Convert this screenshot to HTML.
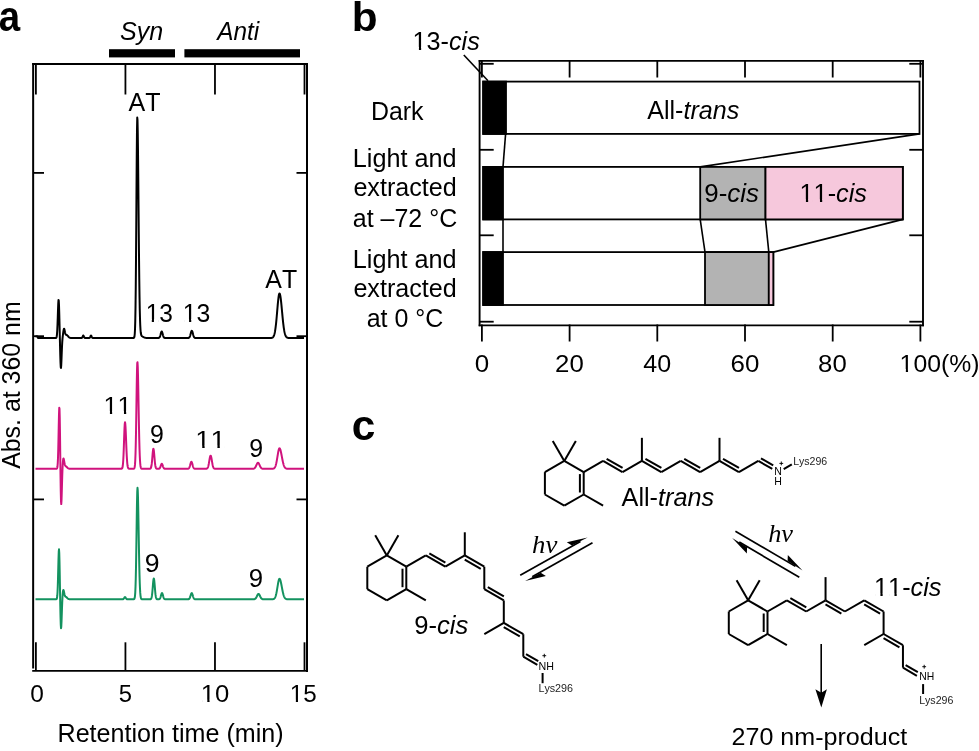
<!DOCTYPE html><html><head><meta charset="utf-8"><style>html,body{margin:0;padding:0;background:#fff;}svg{display:block;will-change:transform;}</style></head><body>
<svg width="979" height="751" viewBox="0 0 979 751">
<rect width="979" height="751" fill="#fff"/>
<text x="-1.13" y="30.50" textLength="21.38" lengthAdjust="spacingAndGlyphs" style="font-family:&quot;Liberation Sans&quot;,sans-serif;font-weight:bold;font-size:42px;font-kerning:none;" fill="#000" >a</text>
<text x="120.09" y="39.50" textLength="43.25" lengthAdjust="spacingAndGlyphs" style="font-family:&quot;Liberation Sans&quot;,sans-serif;font-style:italic;font-size:26.0px;font-kerning:none;" fill="#000" >Syn</text>
<text x="217.30" y="39.50" textLength="41.95" lengthAdjust="spacingAndGlyphs" style="font-family:&quot;Liberation Sans&quot;,sans-serif;font-style:italic;font-size:26.0px;font-kerning:none;" fill="#000" >Anti</text>
<rect x="109.00" y="49.20" width="66.00" height="8.20" fill="#000" stroke="none" stroke-width="0"/>
<rect x="184.40" y="49.20" width="115.60" height="8.20" fill="#000" stroke="none" stroke-width="0"/>
<line x1="33.15" y1="63.10" x2="33.15" y2="668.50" stroke="#000" stroke-width="2" stroke-linecap="butt"/>
<line x1="307.00" y1="63.10" x2="307.00" y2="671.90" stroke="#000" stroke-width="2" stroke-linecap="butt"/>
<line x1="32.20" y1="64.00" x2="307.90" y2="64.00" stroke="#000" stroke-width="1.9" stroke-linecap="butt"/>
<line x1="32.20" y1="670.90" x2="307.90" y2="670.90" stroke="#000" stroke-width="1.9" stroke-linecap="butt"/>
<line x1="35.90" y1="64.00" x2="35.90" y2="94.50" stroke="#000" stroke-width="1.8" stroke-linecap="butt"/>
<line x1="35.90" y1="642.30" x2="35.90" y2="671.00" stroke="#000" stroke-width="1.8" stroke-linecap="butt"/>
<line x1="125.43" y1="64.00" x2="125.43" y2="94.50" stroke="#000" stroke-width="1.8" stroke-linecap="butt"/>
<line x1="125.43" y1="642.30" x2="125.43" y2="671.00" stroke="#000" stroke-width="1.8" stroke-linecap="butt"/>
<line x1="214.97" y1="64.00" x2="214.97" y2="94.50" stroke="#000" stroke-width="1.8" stroke-linecap="butt"/>
<line x1="214.97" y1="642.30" x2="214.97" y2="671.00" stroke="#000" stroke-width="1.8" stroke-linecap="butt"/>
<line x1="304.50" y1="64.00" x2="304.50" y2="94.50" stroke="#000" stroke-width="1.8" stroke-linecap="butt"/>
<line x1="304.50" y1="642.30" x2="304.50" y2="671.00" stroke="#000" stroke-width="1.8" stroke-linecap="butt"/>
<line x1="33.00" y1="172.90" x2="44.00" y2="172.90" stroke="#000" stroke-width="1.8" stroke-linecap="butt"/>
<line x1="296.50" y1="172.90" x2="307.00" y2="172.90" stroke="#000" stroke-width="1.8" stroke-linecap="butt"/>
<line x1="33.00" y1="336.20" x2="44.00" y2="336.20" stroke="#000" stroke-width="1.8" stroke-linecap="butt"/>
<line x1="296.50" y1="336.20" x2="307.00" y2="336.20" stroke="#000" stroke-width="1.8" stroke-linecap="butt"/>
<line x1="33.00" y1="499.40" x2="44.00" y2="499.40" stroke="#000" stroke-width="1.8" stroke-linecap="butt"/>
<line x1="296.50" y1="499.40" x2="307.00" y2="499.40" stroke="#000" stroke-width="1.8" stroke-linecap="butt"/>
<text x="30.34" y="702.40" textLength="13.61" lengthAdjust="spacingAndGlyphs" style="font-family:&quot;Liberation Sans&quot;,sans-serif;font-size:24.8px;font-kerning:none;" fill="#000" >0</text>
<text x="118.65" y="702.40" textLength="13.26" lengthAdjust="spacingAndGlyphs" style="font-family:&quot;Liberation Sans&quot;,sans-serif;font-size:24.8px;font-kerning:none;" fill="#000" >5</text>
<text x="200.83" y="702.40" textLength="28.57" lengthAdjust="spacingAndGlyphs" style="font-family:&quot;Liberation Sans&quot;,sans-serif;font-size:24.8px;font-kerning:none;" fill="#000" >10</text>
<rect x="202.19" y="699.75" width="5.10" height="3.45" fill="#fff"/>
<rect x="209.56" y="699.75" width="4.90" height="3.45" fill="#fff"/>
<text x="289.77" y="702.40" textLength="26.95" lengthAdjust="spacingAndGlyphs" style="font-family:&quot;Liberation Sans&quot;,sans-serif;font-size:24.8px;font-kerning:none;" fill="#000" >15</text>
<rect x="291.01" y="699.75" width="4.85" height="3.45" fill="#fff"/>
<rect x="298.00" y="699.75" width="4.66" height="3.45" fill="#fff"/>
<text x="57.54" y="742.00" textLength="226.02" lengthAdjust="spacingAndGlyphs" style="font-family:&quot;Liberation Sans&quot;,sans-serif;font-size:25.6px;font-kerning:none;" fill="#000" >Retention time (min)</text>
<g transform="translate(20.4,468.8) rotate(-90)">
<text x="-0.05" y="0.00" textLength="167.49" lengthAdjust="spacingAndGlyphs" style="font-family:&quot;Liberation Sans&quot;,sans-serif;font-size:25.6px;font-kerning:none;" fill="#000" >Abs. at 360 nm</text>
</g>
<text x="128.55" y="110.60" textLength="32.02" lengthAdjust="spacingAndGlyphs" style="font-family:&quot;Liberation Sans&quot;,sans-serif;font-size:26.0px;font-kerning:none;" fill="#000" >AT</text>
<text x="145.65" y="321.70" textLength="27.23" lengthAdjust="spacingAndGlyphs" style="font-family:&quot;Liberation Sans&quot;,sans-serif;font-size:25.0px;font-kerning:none;" fill="#000" >13</text>
<rect x="146.91" y="319.03" width="4.89" height="3.47" fill="#fff"/>
<rect x="153.96" y="319.03" width="4.70" height="3.47" fill="#fff"/>
<text x="182.82" y="321.70" textLength="27.57" lengthAdjust="spacingAndGlyphs" style="font-family:&quot;Liberation Sans&quot;,sans-serif;font-size:25.0px;font-kerning:none;" fill="#000" >13</text>
<rect x="184.10" y="319.03" width="4.95" height="3.47" fill="#fff"/>
<rect x="191.24" y="319.03" width="4.75" height="3.47" fill="#fff"/>
<text x="265.35" y="287.60" textLength="31.82" lengthAdjust="spacingAndGlyphs" style="font-family:&quot;Liberation Sans&quot;,sans-serif;font-size:25.8px;font-kerning:none;" fill="#000" >AT</text>
<text x="103.57" y="413.80" textLength="28.09" lengthAdjust="spacingAndGlyphs" style="font-family:&quot;Liberation Sans&quot;,sans-serif;font-size:24.8px;font-kerning:none;" fill="#000" >11</text>
<rect x="104.89" y="411.15" width="5.03" height="3.45" fill="#fff"/>
<rect x="112.15" y="411.15" width="4.83" height="3.45" fill="#fff"/>
<rect x="118.94" y="411.15" width="5.03" height="3.45" fill="#fff"/>
<rect x="126.20" y="411.15" width="4.83" height="3.45" fill="#fff"/>
<text x="150.03" y="442.90" textLength="13.85" lengthAdjust="spacingAndGlyphs" style="font-family:&quot;Liberation Sans&quot;,sans-serif;font-size:25.0px;font-kerning:none;" fill="#000" >9</text>
<text x="195.38" y="448.30" textLength="30.32" lengthAdjust="spacingAndGlyphs" style="font-family:&quot;Liberation Sans&quot;,sans-serif;font-size:24.8px;font-kerning:none;" fill="#000" >11</text>
<rect x="196.85" y="445.65" width="5.38" height="3.45" fill="#fff"/>
<rect x="204.64" y="445.65" width="5.16" height="3.45" fill="#fff"/>
<rect x="212.01" y="445.65" width="5.38" height="3.45" fill="#fff"/>
<rect x="219.80" y="445.65" width="5.16" height="3.45" fill="#fff"/>
<text x="249.23" y="457.30" textLength="13.85" lengthAdjust="spacingAndGlyphs" style="font-family:&quot;Liberation Sans&quot;,sans-serif;font-size:25.0px;font-kerning:none;" fill="#000" >9</text>
<text x="144.85" y="571.70" textLength="14.81" lengthAdjust="spacingAndGlyphs" style="font-family:&quot;Liberation Sans&quot;,sans-serif;font-size:25.0px;font-kerning:none;" fill="#000" >9</text>
<text x="248.79" y="586.50" textLength="14.33" lengthAdjust="spacingAndGlyphs" style="font-family:&quot;Liberation Sans&quot;,sans-serif;font-size:25.0px;font-kerning:none;" fill="#000" >9</text>
<polyline points="35.50,336.20 37.50,336.40 38.00,338.00 38.00,338.00 38.25,338.00 38.50,338.00 38.75,338.00 39.00,338.00 39.25,338.00 39.50,338.00 39.75,338.00 40.00,338.00 40.25,338.00 40.50,338.00 40.75,338.00 41.00,338.00 41.25,338.00 41.50,338.00 41.75,338.00 42.00,338.00 42.25,338.00 42.50,338.00 42.75,338.00 43.00,338.00 43.25,338.00 43.50,338.00 43.75,338.00 44.00,338.00 44.25,338.00 44.50,338.00 44.75,338.00 45.00,338.00 45.25,338.00 45.50,338.00 45.75,338.00 46.00,338.00 46.25,338.00 46.50,338.00 46.75,338.00 47.00,338.00 47.25,338.00 47.50,338.00 47.75,338.00 48.00,338.00 48.25,338.00 48.50,338.00 48.75,338.00 49.00,338.00 49.25,338.00 49.50,338.00 49.75,338.00 50.00,338.00 50.25,338.00 50.50,338.00 50.75,338.00 51.00,338.00 51.25,338.00 51.50,338.00 51.75,338.00 52.00,338.00 52.25,338.00 52.50,338.00 52.75,338.00 53.00,338.00 53.25,338.00 53.50,338.00 53.75,338.00 54.00,338.00 54.25,338.00 54.50,338.00 54.75,338.00 55.00,338.00 55.25,338.00 55.50,337.99 55.75,337.97 56.00,337.91 56.25,337.72 56.50,337.24 56.75,336.16 57.00,334.04 57.25,330.38 57.50,324.87 57.75,317.75 58.00,310.05 58.25,303.50 58.50,299.93 58.75,300.54 59.00,305.37 59.25,313.45 59.50,323.39 59.75,334.03 60.00,344.60 60.25,354.39 60.50,362.35 60.75,367.17 61.00,367.95 61.25,364.81 61.50,359.03 61.75,352.40 62.00,346.47 62.25,341.92 62.50,338.69 62.75,336.29 63.00,334.25 63.25,332.34 63.50,330.63 63.75,329.35 64.00,328.75 64.25,328.93 64.50,329.77 64.75,331.00 65.00,332.29 65.25,333.37 65.50,334.13 65.75,334.58 66.00,334.79 66.25,334.88 66.50,334.94 66.75,335.02 67.00,335.15 67.25,335.35 67.50,335.60 67.75,335.88 68.00,336.18 68.25,336.48 68.50,336.77 68.75,337.03 69.00,337.25 69.25,337.44 69.50,337.59 69.75,337.71 70.00,337.80 70.25,337.87 70.50,337.91 70.75,337.95 71.00,337.97 71.25,337.98 71.50,337.99 71.75,337.99 72.00,338.00 72.25,338.00 72.50,338.00 72.75,338.00 73.00,338.00 73.25,338.00 73.50,338.00 73.75,338.00 74.00,338.00 74.25,338.00 74.50,338.00 74.75,338.00 75.00,338.00 75.25,338.00 75.50,338.00 75.75,338.00 76.00,338.00 76.25,338.00 76.50,338.00 76.75,338.00 77.00,338.00 77.25,338.00 77.50,338.00 77.75,338.00 78.00,338.00 78.25,338.00 78.50,338.00 78.75,338.00 79.00,338.00 79.25,338.00 79.50,338.00 79.75,338.00 80.00,338.00 80.25,338.00 80.50,338.00 80.75,338.00 81.00,338.00 81.25,337.99 81.50,337.97 81.75,337.91 82.00,337.76 82.25,337.46 82.50,336.97 82.75,336.36 83.00,335.79 83.25,335.51 83.50,335.64 83.75,336.11 84.00,336.73 84.25,337.29 84.50,337.66 84.75,337.87 85.00,337.95 85.25,337.99 85.50,338.00 85.75,338.00 86.00,338.00 86.25,338.00 86.50,338.00 86.75,338.00 87.00,338.00 87.25,338.00 87.50,338.00 87.75,338.00 88.00,338.00 88.25,338.00 88.50,338.00 88.75,338.00 89.00,337.99 89.25,337.96 89.50,337.89 89.75,337.71 90.00,337.38 90.25,336.86 90.50,336.23 90.75,335.71 91.00,335.50 91.25,335.71 91.50,336.23 91.75,336.86 92.00,337.38 92.25,337.71 92.50,337.89 92.75,337.96 93.00,337.99 93.25,338.00 93.50,338.00 93.75,338.00 94.00,338.00 94.25,338.00 94.50,338.00 94.75,338.00 95.00,338.00 95.25,338.00 95.50,338.00 95.75,338.00 96.00,338.00 96.25,338.00 96.50,338.00 96.75,338.00 97.00,338.00 97.25,338.00 97.50,338.00 97.75,338.00 98.00,338.00 98.25,338.00 98.50,338.00 98.75,338.00 99.00,338.00 99.25,338.00 99.50,338.00 99.75,338.00 100.00,338.00 100.25,338.00 100.50,338.00 100.75,338.00 101.00,338.00 101.25,338.00 101.50,338.00 101.75,338.00 102.00,338.00 102.25,338.00 102.50,338.00 102.75,338.00 103.00,338.00 103.25,338.00 103.50,338.00 103.75,338.00 104.00,338.00 104.25,338.00 104.50,338.00 104.75,338.00 105.00,338.00 105.25,338.00 105.50,338.00 105.75,338.00 106.00,338.00 106.25,338.00 106.50,338.00 106.75,338.00 107.00,338.00 107.25,338.00 107.50,338.00 107.75,338.00 108.00,338.00 108.25,338.00 108.50,338.00 108.75,338.00 109.00,338.00 109.25,338.00 109.50,338.00 109.75,338.00 110.00,338.00 110.25,338.00 110.50,338.00 110.75,338.00 111.00,338.00 111.25,338.00 111.50,338.00 111.75,338.00 112.00,338.00 112.25,338.00 112.50,338.00 112.75,338.00 113.00,338.00 113.25,338.00 113.50,338.00 113.75,338.00 114.00,338.00 114.25,338.00 114.50,338.00 114.75,338.00 115.00,338.00 115.25,338.00 115.50,338.00 115.75,338.00 116.00,338.00 116.25,338.00 116.50,338.00 116.75,338.00 117.00,338.00 117.25,338.00 117.50,338.00 117.75,338.00 118.00,338.00 118.25,338.00 118.50,338.00 118.75,338.00 119.00,338.00 119.25,338.00 119.50,338.00 119.75,338.00 120.00,338.00 120.25,338.00 120.50,338.00 120.75,338.00 121.00,338.00 121.25,338.00 121.50,338.00 121.75,338.00 122.00,338.00 122.25,338.00 122.50,338.00 122.75,338.00 123.00,338.00 123.25,338.00 123.50,338.00 123.75,338.00 124.00,338.00 124.25,338.00 124.50,338.00 124.75,338.00 125.00,338.00 125.25,338.00 125.50,338.00 125.75,338.00 126.00,338.00 126.25,338.00 126.50,338.00 126.75,338.00 127.00,338.00 127.25,338.00 127.50,338.00 127.75,338.00 128.00,338.00 128.25,338.00 128.50,338.00 128.75,338.00 129.00,338.00 129.25,338.00 129.50,338.00 129.75,338.00 130.00,338.00 130.25,338.00 130.50,338.00 130.75,338.00 131.00,338.00 131.25,338.00 131.50,338.00 131.75,338.00 132.00,338.00 132.25,338.00 132.50,338.00 132.75,338.00 133.00,338.00 133.25,337.99 133.50,337.97 133.75,337.90 134.00,337.73 134.25,337.29 134.50,336.25 134.75,334.00 135.00,329.56 135.25,321.49 135.50,308.11 135.75,287.89 136.00,260.23 136.25,226.23 136.50,189.30 136.75,154.85 137.00,129.15 137.25,117.50 137.50,120.11 137.75,131.94 138.00,151.35 138.25,176.04 138.50,203.34 138.75,230.68 139.00,255.95 139.25,277.75 139.50,295.42 139.75,308.92 140.00,318.69 140.25,325.39 140.50,329.76 140.75,332.48 141.00,334.10 141.25,335.04 141.50,335.58 141.75,335.91 142.00,336.13 142.25,336.31 142.50,336.47 142.75,336.63 143.00,336.78 143.25,336.94 143.50,337.08 143.75,337.22 144.00,337.35 144.25,337.47 144.50,337.57 144.75,337.66 145.00,337.73 145.25,337.79 145.50,337.84 145.75,337.88 146.00,337.91 146.25,337.94 146.50,337.95 146.75,337.97 147.00,337.98 147.25,337.98 147.50,337.99 147.75,337.99 148.00,338.00 148.25,338.00 148.50,338.00 148.75,338.00 149.00,338.00 149.25,338.00 149.50,338.00 149.75,338.00 150.00,338.00 150.25,338.00 150.50,338.00 150.75,338.00 151.00,338.00 151.25,338.00 151.50,338.00 151.75,338.00 152.00,338.00 152.25,338.00 152.50,338.00 152.75,338.00 153.00,338.00 153.25,338.00 153.50,338.00 153.75,338.00 154.00,338.00 154.25,338.00 154.50,338.00 154.75,338.00 155.00,338.00 155.25,338.00 155.50,338.00 155.75,338.00 156.00,338.00 156.25,338.00 156.50,338.00 156.75,338.00 157.00,338.00 157.25,338.00 157.50,338.00 157.75,338.00 158.00,337.99 158.25,337.98 158.50,337.96 158.75,337.92 159.00,337.83 159.25,337.68 159.50,337.42 159.75,337.03 160.00,336.47 160.25,335.73 160.50,334.84 160.75,333.86 161.00,332.91 161.25,332.13 161.50,331.63 161.75,331.51 162.00,331.79 162.25,332.41 162.50,333.28 162.75,334.25 163.00,335.21 163.25,336.04 163.50,336.71 163.75,337.21 164.00,337.54 164.25,337.75 164.50,337.87 164.75,337.94 165.00,337.97 165.25,337.99 165.50,338.00 165.75,338.00 166.00,338.00 166.25,338.00 166.50,338.00 166.75,338.00 167.00,338.00 167.25,338.00 167.50,338.00 167.75,338.00 168.00,338.00 168.25,338.00 168.50,338.00 168.75,338.00 169.00,338.00 169.25,338.00 169.50,338.00 169.75,338.00 170.00,338.00 170.25,338.00 170.50,338.00 170.75,338.00 171.00,338.00 171.25,338.00 171.50,338.00 171.75,338.00 172.00,338.00 172.25,338.00 172.50,338.00 172.75,338.00 173.00,338.00 173.25,338.00 173.50,338.00 173.75,338.00 174.00,338.00 174.25,338.00 174.50,338.00 174.75,338.00 175.00,338.00 175.25,338.00 175.50,338.00 175.75,338.00 176.00,338.00 176.25,338.00 176.50,338.00 176.75,338.00 177.00,338.00 177.25,338.00 177.50,338.00 177.75,338.00 178.00,338.00 178.25,338.00 178.50,338.00 178.75,338.00 179.00,338.00 179.25,338.00 179.50,338.00 179.75,338.00 180.00,338.00 180.25,338.00 180.50,338.00 180.75,338.00 181.00,338.00 181.25,338.00 181.50,338.00 181.75,338.00 182.00,338.00 182.25,338.00 182.50,338.00 182.75,338.00 183.00,338.00 183.25,338.00 183.50,338.00 183.75,338.00 184.00,338.00 184.25,338.00 184.50,338.00 184.75,338.00 185.00,338.00 185.25,338.00 185.50,338.00 185.75,338.00 186.00,338.00 186.25,338.00 186.50,338.00 186.75,338.00 187.00,338.00 187.25,338.00 187.50,338.00 187.75,337.99 188.00,337.98 188.25,337.96 188.50,337.92 188.75,337.85 189.00,337.72 189.25,337.51 189.50,337.19 189.75,336.73 190.00,336.11 190.25,335.33 190.50,334.42 190.75,333.43 191.00,332.47 191.25,331.65 191.50,331.06 191.75,330.81 192.00,330.92 192.25,331.38 192.50,332.12 192.75,333.04 193.00,334.03 193.25,334.98 193.50,335.82 193.75,336.50 194.00,337.03 194.25,337.40 194.50,337.65 194.75,337.80 195.00,337.90 195.25,337.95 195.50,337.97 195.75,337.99 196.00,338.00 196.25,338.00 196.50,338.00 196.75,338.00 197.00,338.00 197.25,338.00 197.50,338.00 197.75,338.00 198.00,338.00 198.25,338.00 198.50,338.00 198.75,338.00 199.00,338.00 199.25,338.00 199.50,338.00 199.75,338.00 200.00,338.00 200.25,338.00 200.50,338.00 200.75,338.00 201.00,338.00 201.25,338.00 201.50,338.00 201.75,338.00 202.00,338.00 202.25,338.00 202.50,338.00 202.75,338.00 203.00,338.00 203.25,338.00 203.50,338.00 203.75,338.00 204.00,338.00 204.25,338.00 204.50,338.00 204.75,338.00 205.00,338.00 205.25,338.00 205.50,338.00 205.75,338.00 206.00,338.00 206.25,338.00 206.50,338.00 206.75,338.00 207.00,338.00 207.25,338.00 207.50,338.00 207.75,338.00 208.00,338.00 208.25,338.00 208.50,338.00 208.75,338.00 209.00,338.00 209.25,338.00 209.50,338.00 209.75,338.00 210.00,338.00 210.25,338.00 210.50,338.00 210.75,338.00 211.00,338.00 211.25,338.00 211.50,338.00 211.75,338.00 212.00,338.00 212.25,338.00 212.50,338.00 212.75,338.00 213.00,338.00 213.25,338.00 213.50,338.00 213.75,338.00 214.00,338.00 214.25,338.00 214.50,338.00 214.75,338.00 215.00,338.00 215.25,338.00 215.50,338.00 215.75,338.00 216.00,338.00 216.25,338.00 216.50,338.00 216.75,338.00 217.00,338.00 217.25,338.00 217.50,338.00 217.75,338.00 218.00,338.00 218.25,338.00 218.50,338.00 218.75,338.00 219.00,338.00 219.25,338.00 219.50,338.00 219.75,338.00 220.00,338.00 220.25,338.00 220.50,338.00 220.75,338.00 221.00,338.00 221.25,338.00 221.50,338.00 221.75,338.00 222.00,338.00 222.25,338.00 222.50,338.00 222.75,338.00 223.00,338.00 223.25,338.00 223.50,338.00 223.75,338.00 224.00,338.00 224.25,338.00 224.50,338.00 224.75,338.00 225.00,338.00 225.25,338.00 225.50,338.00 225.75,338.00 226.00,338.00 226.25,338.00 226.50,338.00 226.75,338.00 227.00,338.00 227.25,338.00 227.50,338.00 227.75,338.00 228.00,338.00 228.25,338.00 228.50,338.00 228.75,338.00 229.00,338.00 229.25,338.00 229.50,338.00 229.75,338.00 230.00,338.00 230.25,338.00 230.50,338.00 230.75,338.00 231.00,338.00 231.25,338.00 231.50,338.00 231.75,338.00 232.00,338.00 232.25,338.00 232.50,338.00 232.75,338.00 233.00,338.00 233.25,338.00 233.50,338.00 233.75,338.00 234.00,338.00 234.25,338.00 234.50,338.00 234.75,338.00 235.00,338.00 235.25,338.00 235.50,338.00 235.75,338.00 236.00,338.00 236.25,338.00 236.50,338.00 236.75,338.00 237.00,338.00 237.25,338.00 237.50,338.00 237.75,338.00 238.00,338.00 238.25,338.00 238.50,338.00 238.75,338.00 239.00,338.00 239.25,338.00 239.50,338.00 239.75,338.00 240.00,338.00 240.25,338.00 240.50,338.00 240.75,338.00 241.00,338.00 241.25,338.00 241.50,338.00 241.75,338.00 242.00,338.00 242.25,338.00 242.50,338.00 242.75,338.00 243.00,338.00 243.25,338.00 243.50,338.00 243.75,338.00 244.00,338.00 244.25,338.00 244.50,338.00 244.75,338.00 245.00,338.00 245.25,338.00 245.50,338.00 245.75,338.00 246.00,338.00 246.25,338.00 246.50,338.00 246.75,338.00 247.00,338.00 247.25,338.00 247.50,338.00 247.75,338.00 248.00,338.00 248.25,338.00 248.50,338.00 248.75,338.00 249.00,338.00 249.25,338.00 249.50,338.00 249.75,338.00 250.00,338.00 250.25,338.00 250.50,338.00 250.75,338.00 251.00,338.00 251.25,338.00 251.50,338.00 251.75,338.00 252.00,338.00 252.25,338.00 252.50,338.00 252.75,338.00 253.00,338.00 253.25,338.00 253.50,338.00 253.75,338.00 254.00,338.00 254.25,338.00 254.50,338.00 254.75,338.00 255.00,338.00 255.25,338.00 255.50,338.00 255.75,338.00 256.00,338.00 256.25,338.00 256.50,338.00 256.75,338.00 257.00,338.00 257.25,338.00 257.50,338.00 257.75,338.00 258.00,338.00 258.25,338.00 258.50,338.00 258.75,338.00 259.00,338.00 259.25,338.00 259.50,338.00 259.75,338.00 260.00,338.00 260.25,338.00 260.50,338.00 260.75,338.00 261.00,338.00 261.25,338.00 261.50,338.00 261.75,338.00 262.00,338.00 262.25,338.00 262.50,338.00 262.75,338.00 263.00,338.00 263.25,338.00 263.50,338.00 263.75,338.00 264.00,338.00 264.25,338.00 264.50,338.00 264.75,338.00 265.00,338.00 265.25,338.00 265.50,338.00 265.75,338.00 266.00,338.00 266.25,338.00 266.50,338.00 266.75,338.00 267.00,338.00 267.25,338.00 267.50,338.00 267.75,338.00 268.00,338.00 268.25,338.00 268.50,338.00 268.75,338.00 269.00,338.00 269.25,338.00 269.50,338.00 269.75,337.99 270.00,337.99 270.25,337.99 270.50,337.98 270.75,337.97 271.00,337.95 271.25,337.93 271.50,337.89 271.75,337.85 272.00,337.78 272.25,337.69 272.50,337.57 272.75,337.40 273.00,337.18 273.25,336.89 273.50,336.52 273.75,336.04 274.00,335.45 274.25,334.71 274.50,333.81 274.75,332.73 275.00,331.44 275.25,329.93 275.50,328.19 275.75,326.22 276.00,324.02 276.25,321.60 276.50,318.99 276.75,316.23 277.00,313.35 277.25,310.42 277.50,307.51 277.75,304.68 278.00,302.03 278.25,299.61 278.50,297.51 278.75,295.80 279.00,294.54 279.25,293.76 279.50,293.50 279.75,293.72 280.00,294.38 280.25,295.46 280.50,296.92 280.75,298.73 281.00,300.83 281.25,303.17 281.50,305.69 281.75,308.32 282.00,311.01 282.25,313.70 282.50,316.34 282.75,318.88 283.00,321.30 283.25,323.55 283.50,325.63 283.75,327.51 284.00,329.19 284.25,330.68 284.50,331.98 284.75,333.09 285.00,334.04 285.25,334.84 285.50,335.50 285.75,336.04 286.00,336.48 286.25,336.84 286.50,337.12 286.75,337.34 287.00,337.51 287.25,337.64 287.50,337.73 287.75,337.81 288.00,337.86 288.25,337.90 288.50,337.93 288.75,337.95 289.00,337.97 289.25,337.98 289.50,337.99 289.75,337.99 290.00,337.99 290.25,338.00 290.50,338.00 290.75,338.00 291.00,338.00 291.25,338.00 291.50,338.00 291.75,338.00 292.00,338.00 292.25,338.00 292.50,338.00 292.75,338.00 293.00,338.00 293.25,338.00 293.50,338.00 293.75,338.00 294.00,338.00 294.25,338.00 294.50,338.00 294.75,338.00 295.00,338.00 295.25,338.00 295.50,338.00 295.75,338.00 296.00,338.00 296.25,338.00 296.50,338.00 296.75,338.00 297.00,338.00 297.25,338.00 297.50,338.00 297.75,338.00 298.00,338.00 298.25,338.00 298.50,338.00 298.75,338.00 299.00,338.00 299.25,338.00 299.50,338.00 299.75,338.00 300.00,338.00 300.25,338.00 300.50,338.00 300.75,338.00 301.00,338.00 301.25,338.00 301.50,338.00 301.75,338.00 302.00,338.00 302.25,338.00 302.50,338.00 302.75,338.00 303.00,338.00 303.25,338.00 303.50,338.00 303.75,338.00 304.00,338.00" fill="none" stroke="#000" stroke-width="2.0" stroke-linejoin="round" stroke-linecap="butt"/>
<polyline points="35.50,468.80 35.75,468.80 36.00,468.80 36.25,468.80 36.50,468.80 36.75,468.80 37.00,468.80 37.25,468.80 37.50,468.80 37.75,468.80 38.00,468.80 38.25,468.80 38.50,468.80 38.75,468.80 39.00,468.80 39.25,468.80 39.50,468.80 39.75,468.80 40.00,468.80 40.25,468.80 40.50,468.80 40.75,468.80 41.00,468.80 41.25,468.80 41.50,468.80 41.75,468.80 42.00,468.80 42.25,468.80 42.50,468.80 42.75,468.80 43.00,468.80 43.25,468.80 43.50,468.80 43.75,468.80 44.00,468.80 44.25,468.80 44.50,468.80 44.75,468.80 45.00,468.80 45.25,468.80 45.50,468.80 45.75,468.80 46.00,468.80 46.25,468.80 46.50,468.80 46.75,468.80 47.00,468.80 47.25,468.80 47.50,468.80 47.75,468.80 48.00,468.80 48.25,468.80 48.50,468.80 48.75,468.80 49.00,468.80 49.25,468.80 49.50,468.80 49.75,468.80 50.00,468.80 50.25,468.80 50.50,468.80 50.75,468.80 51.00,468.80 51.25,468.80 51.50,468.80 51.75,468.80 52.00,468.80 52.25,468.80 52.50,468.80 52.75,468.80 53.00,468.80 53.25,468.80 53.50,468.80 53.75,468.80 54.00,468.80 54.25,468.80 54.50,468.80 54.75,468.80 55.00,468.80 55.25,468.80 55.50,468.80 55.75,468.80 56.00,468.80 56.25,468.79 56.50,468.76 56.75,468.68 57.00,468.42 57.25,467.76 57.50,466.23 57.75,463.15 58.00,457.68 58.25,449.21 58.50,437.93 58.75,425.32 59.00,414.16 59.25,407.76 59.50,408.76 59.75,418.00 60.00,434.18 60.25,454.28 60.50,474.47 60.75,491.04 61.00,501.24 61.25,504.07 61.50,500.45 61.75,492.76 62.00,483.71 62.25,475.38 62.50,468.75 62.75,463.96 63.00,460.78 63.25,459.01 63.50,458.46 63.75,458.93 64.00,460.12 64.25,461.63 64.50,463.11 64.75,464.31 65.00,465.15 65.25,465.68 65.50,466.00 65.75,466.21 66.00,466.39 66.25,466.58 66.50,466.79 66.75,467.03 67.00,467.28 67.25,467.53 67.50,467.77 67.75,467.99 68.00,468.18 68.25,468.33 68.50,468.46 68.75,468.56 69.00,468.64 69.25,468.69 69.50,468.73 69.75,468.75 70.00,468.77 70.25,468.78 70.50,468.79 70.75,468.79 71.00,468.80 71.25,468.80 71.50,468.80 71.75,468.80 72.00,468.80 72.25,468.80 72.50,468.80 72.75,468.80 73.00,468.80 73.25,468.80 73.50,468.80 73.75,468.80 74.00,468.80 74.25,468.80 74.50,468.80 74.75,468.80 75.00,468.80 75.25,468.80 75.50,468.80 75.75,468.80 76.00,468.80 76.25,468.80 76.50,468.80 76.75,468.80 77.00,468.80 77.25,468.80 77.50,468.80 77.75,468.80 78.00,468.80 78.25,468.80 78.50,468.80 78.75,468.80 79.00,468.80 79.25,468.80 79.50,468.80 79.75,468.80 80.00,468.80 80.25,468.80 80.50,468.80 80.75,468.80 81.00,468.80 81.25,468.80 81.50,468.80 81.75,468.80 82.00,468.80 82.25,468.80 82.50,468.80 82.75,468.80 83.00,468.80 83.25,468.80 83.50,468.80 83.75,468.80 84.00,468.80 84.25,468.80 84.50,468.80 84.75,468.80 85.00,468.80 85.25,468.80 85.50,468.80 85.75,468.80 86.00,468.80 86.25,468.80 86.50,468.80 86.75,468.80 87.00,468.80 87.25,468.80 87.50,468.80 87.75,468.80 88.00,468.80 88.25,468.80 88.50,468.80 88.75,468.80 89.00,468.80 89.25,468.80 89.50,468.80 89.75,468.80 90.00,468.80 90.25,468.80 90.50,468.80 90.75,468.80 91.00,468.80 91.25,468.80 91.50,468.80 91.75,468.80 92.00,468.80 92.25,468.80 92.50,468.80 92.75,468.80 93.00,468.80 93.25,468.80 93.50,468.80 93.75,468.80 94.00,468.80 94.25,468.80 94.50,468.80 94.75,468.80 95.00,468.80 95.25,468.80 95.50,468.80 95.75,468.80 96.00,468.80 96.25,468.80 96.50,468.80 96.75,468.80 97.00,468.80 97.25,468.80 97.50,468.80 97.75,468.80 98.00,468.80 98.25,468.80 98.50,468.80 98.75,468.80 99.00,468.80 99.25,468.80 99.50,468.80 99.75,468.80 100.00,468.80 100.25,468.80 100.50,468.80 100.75,468.80 101.00,468.80 101.25,468.80 101.50,468.80 101.75,468.80 102.00,468.80 102.25,468.80 102.50,468.80 102.75,468.80 103.00,468.80 103.25,468.80 103.50,468.80 103.75,468.80 104.00,468.80 104.25,468.80 104.50,468.80 104.75,468.80 105.00,468.80 105.25,468.80 105.50,468.80 105.75,468.80 106.00,468.80 106.25,468.80 106.50,468.80 106.75,468.80 107.00,468.80 107.25,468.80 107.50,468.80 107.75,468.80 108.00,468.80 108.25,468.80 108.50,468.80 108.75,468.80 109.00,468.80 109.25,468.80 109.50,468.80 109.75,468.80 110.00,468.80 110.25,468.80 110.50,468.80 110.75,468.80 111.00,468.80 111.25,468.80 111.50,468.80 111.75,468.80 112.00,468.80 112.25,468.80 112.50,468.80 112.75,468.80 113.00,468.80 113.25,468.80 113.50,468.80 113.75,468.80 114.00,468.80 114.25,468.80 114.50,468.80 114.75,468.80 115.00,468.80 115.25,468.80 115.50,468.80 115.75,468.80 116.00,468.80 116.25,468.80 116.50,468.80 116.75,468.80 117.00,468.80 117.25,468.80 117.50,468.80 117.75,468.80 118.00,468.80 118.25,468.80 118.50,468.80 118.75,468.80 119.00,468.80 119.25,468.80 119.50,468.80 119.75,468.80 120.00,468.80 120.25,468.80 120.50,468.80 120.75,468.80 121.00,468.79 121.25,468.78 121.50,468.75 121.75,468.67 122.00,468.48 122.25,468.10 122.50,467.34 122.75,465.99 123.00,463.73 123.25,460.28 123.50,455.43 123.75,449.23 124.00,442.08 124.25,434.75 124.50,428.31 124.75,423.88 125.00,422.30 125.25,423.49 125.50,426.86 125.75,431.94 126.00,438.04 126.25,444.42 126.50,450.45 126.75,455.68 127.00,459.90 127.25,463.06 127.50,465.29 127.75,466.76 128.00,467.67 128.25,468.21 128.50,468.51 128.75,468.66 129.00,468.74 129.25,468.77 129.50,468.79 129.75,468.80 130.00,468.80 130.25,468.80 130.50,468.80 130.75,468.80 131.00,468.80 131.25,468.80 131.50,468.80 131.75,468.80 132.00,468.80 132.25,468.80 132.50,468.80 132.75,468.80 133.00,468.80 133.25,468.79 133.50,468.78 133.75,468.73 134.00,468.62 134.25,468.36 134.50,467.79 134.75,466.61 135.00,464.40 135.25,460.54 135.50,454.32 135.75,445.12 136.00,432.68 136.25,417.37 136.50,400.49 136.75,384.13 137.00,370.88 137.25,363.13 137.50,362.20 137.75,366.64 138.00,375.42 138.25,387.38 138.50,401.08 138.75,415.08 139.00,428.15 139.25,439.46 139.50,448.60 139.75,455.54 140.00,460.49 140.25,463.84 140.50,465.97 140.75,467.26 141.00,468.00 141.25,468.41 141.50,468.61 141.75,468.72 142.00,468.76 142.25,468.79 142.50,468.79 142.75,468.80 143.00,468.80 143.25,468.80 143.50,468.80 143.75,468.80 144.00,468.80 144.25,468.80 144.50,468.80 144.75,468.80 145.00,468.80 145.25,468.80 145.50,468.80 145.75,468.80 146.00,468.80 146.25,468.80 146.50,468.80 146.75,468.80 147.00,468.80 147.25,468.80 147.50,468.80 147.75,468.80 148.00,468.80 148.25,468.80 148.50,468.80 148.75,468.80 149.00,468.80 149.25,468.80 149.50,468.79 149.75,468.77 150.00,468.74 150.25,468.66 150.50,468.50 150.75,468.20 151.00,467.68 151.25,466.82 151.50,465.51 151.75,463.67 152.00,461.29 152.25,458.48 152.50,455.46 152.75,452.61 153.00,450.34 153.25,449.02 153.50,448.90 153.75,449.99 154.00,452.09 154.25,454.86 154.50,457.88 154.75,460.76 155.00,463.24 155.25,465.19 155.50,466.59 155.75,467.54 156.00,468.12 156.25,468.46 156.50,468.64 156.75,468.73 157.00,468.77 157.25,468.79 157.50,468.80 157.75,468.80 158.00,468.80 158.25,468.79 158.50,468.78 158.75,468.75 159.00,468.70 159.25,468.61 159.50,468.44 159.75,468.19 160.00,467.81 160.25,467.30 160.50,466.65 160.75,465.92 161.00,465.17 161.25,464.50 161.50,464.02 161.75,463.81 162.00,463.90 162.25,464.28 162.50,464.89 162.75,465.62 163.00,466.37 163.25,467.05 163.50,467.62 163.75,468.05 164.00,468.36 164.25,468.55 164.50,468.67 164.75,468.74 165.00,468.77 165.25,468.79 165.50,468.79 165.75,468.80 166.00,468.80 166.25,468.80 166.50,468.80 166.75,468.80 167.00,468.80 167.25,468.80 167.50,468.80 167.75,468.80 168.00,468.80 168.25,468.80 168.50,468.80 168.75,468.80 169.00,468.80 169.25,468.80 169.50,468.80 169.75,468.80 170.00,468.80 170.25,468.80 170.50,468.80 170.75,468.80 171.00,468.80 171.25,468.80 171.50,468.80 171.75,468.80 172.00,468.80 172.25,468.80 172.50,468.80 172.75,468.80 173.00,468.80 173.25,468.80 173.50,468.80 173.75,468.80 174.00,468.80 174.25,468.80 174.50,468.80 174.75,468.80 175.00,468.80 175.25,468.80 175.50,468.80 175.75,468.80 176.00,468.80 176.25,468.80 176.50,468.80 176.75,468.80 177.00,468.80 177.25,468.80 177.50,468.80 177.75,468.80 178.00,468.80 178.25,468.80 178.50,468.80 178.75,468.80 179.00,468.80 179.25,468.80 179.50,468.80 179.75,468.80 180.00,468.80 180.25,468.80 180.50,468.80 180.75,468.80 181.00,468.80 181.25,468.80 181.50,468.80 181.75,468.80 182.00,468.80 182.25,468.80 182.50,468.80 182.75,468.80 183.00,468.80 183.25,468.80 183.50,468.80 183.75,468.80 184.00,468.80 184.25,468.80 184.50,468.80 184.75,468.80 185.00,468.80 185.25,468.80 185.50,468.80 185.75,468.80 186.00,468.80 186.25,468.80 186.50,468.80 186.75,468.80 187.00,468.80 187.25,468.79 187.50,468.79 187.75,468.77 188.00,468.74 188.25,468.68 188.50,468.58 188.75,468.42 189.00,468.15 189.25,467.76 189.50,467.23 189.75,466.53 190.00,465.69 190.25,464.75 190.50,463.79 190.75,462.92 191.00,462.25 191.25,461.86 191.50,461.83 191.75,462.15 192.00,462.77 192.25,463.61 192.50,464.55 192.75,465.50 193.00,466.37 193.25,467.10 193.50,467.67 193.75,468.09 194.00,468.37 194.25,468.56 194.50,468.67 194.75,468.73 195.00,468.77 195.25,468.78 195.50,468.79 195.75,468.80 196.00,468.80 196.25,468.80 196.50,468.80 196.75,468.80 197.00,468.80 197.25,468.80 197.50,468.80 197.75,468.80 198.00,468.80 198.25,468.80 198.50,468.80 198.75,468.80 199.00,468.80 199.25,468.80 199.50,468.80 199.75,468.80 200.00,468.80 200.25,468.80 200.50,468.80 200.75,468.80 201.00,468.80 201.25,468.80 201.50,468.80 201.75,468.80 202.00,468.80 202.25,468.80 202.50,468.80 202.75,468.80 203.00,468.80 203.25,468.80 203.50,468.80 203.75,468.80 204.00,468.80 204.25,468.80 204.50,468.80 204.75,468.80 205.00,468.80 205.25,468.80 205.50,468.79 205.75,468.79 206.00,468.77 206.25,468.75 206.50,468.71 206.75,468.64 207.00,468.51 207.25,468.32 207.50,468.03 207.75,467.61 208.00,467.01 208.25,466.22 208.50,465.22 208.75,464.00 209.00,462.61 209.25,461.10 209.50,459.57 209.75,458.14 210.00,456.93 210.25,456.07 210.50,455.64 210.75,455.69 211.00,456.21 211.25,457.15 211.50,458.41 211.75,459.87 212.00,461.41 212.25,462.90 212.50,464.26 212.75,465.44 213.00,466.40 213.25,467.15 213.50,467.70 213.75,468.10 214.00,468.37 214.25,468.54 214.50,468.65 214.75,468.72 215.00,468.76 215.25,468.78 215.50,468.79 215.75,468.79 216.00,468.80 216.25,468.80 216.50,468.80 216.75,468.80 217.00,468.80 217.25,468.80 217.50,468.80 217.75,468.80 218.00,468.80 218.25,468.80 218.50,468.80 218.75,468.80 219.00,468.80 219.25,468.80 219.50,468.80 219.75,468.80 220.00,468.80 220.25,468.80 220.50,468.80 220.75,468.80 221.00,468.80 221.25,468.80 221.50,468.80 221.75,468.80 222.00,468.80 222.25,468.80 222.50,468.80 222.75,468.80 223.00,468.80 223.25,468.80 223.50,468.80 223.75,468.80 224.00,468.80 224.25,468.80 224.50,468.80 224.75,468.80 225.00,468.80 225.25,468.80 225.50,468.80 225.75,468.80 226.00,468.80 226.25,468.80 226.50,468.80 226.75,468.80 227.00,468.80 227.25,468.80 227.50,468.80 227.75,468.80 228.00,468.80 228.25,468.80 228.50,468.80 228.75,468.80 229.00,468.80 229.25,468.80 229.50,468.80 229.75,468.80 230.00,468.80 230.25,468.80 230.50,468.80 230.75,468.80 231.00,468.80 231.25,468.80 231.50,468.80 231.75,468.80 232.00,468.80 232.25,468.80 232.50,468.80 232.75,468.80 233.00,468.80 233.25,468.80 233.50,468.80 233.75,468.80 234.00,468.80 234.25,468.80 234.50,468.80 234.75,468.80 235.00,468.80 235.25,468.80 235.50,468.80 235.75,468.80 236.00,468.80 236.25,468.80 236.50,468.80 236.75,468.80 237.00,468.80 237.25,468.80 237.50,468.80 237.75,468.80 238.00,468.80 238.25,468.80 238.50,468.80 238.75,468.80 239.00,468.80 239.25,468.80 239.50,468.80 239.75,468.80 240.00,468.80 240.25,468.80 240.50,468.80 240.75,468.80 241.00,468.80 241.25,468.80 241.50,468.80 241.75,468.80 242.00,468.80 242.25,468.80 242.50,468.80 242.75,468.80 243.00,468.80 243.25,468.80 243.50,468.80 243.75,468.80 244.00,468.80 244.25,468.80 244.50,468.80 244.75,468.80 245.00,468.80 245.25,468.80 245.50,468.80 245.75,468.80 246.00,468.80 246.25,468.80 246.50,468.80 246.75,468.80 247.00,468.80 247.25,468.80 247.50,468.80 247.75,468.80 248.00,468.80 248.25,468.80 248.50,468.80 248.75,468.80 249.00,468.80 249.25,468.80 249.50,468.80 249.75,468.80 250.00,468.80 250.25,468.80 250.50,468.80 250.75,468.80 251.00,468.80 251.25,468.80 251.50,468.80 251.75,468.80 252.00,468.79 252.25,468.79 252.50,468.78 252.75,468.77 253.00,468.75 253.25,468.73 253.50,468.69 253.75,468.62 254.00,468.54 254.25,468.42 254.50,468.25 254.75,468.04 255.00,467.77 255.25,467.43 255.50,467.03 255.75,466.57 256.00,466.05 256.25,465.50 256.50,464.93 256.75,464.38 257.00,463.86 257.25,463.42 257.50,463.09 257.75,462.87 258.00,462.80 258.25,462.87 258.50,463.09 258.75,463.42 259.00,463.86 259.25,464.38 259.50,464.93 259.75,465.50 260.00,466.05 260.25,466.57 260.50,467.03 260.75,467.43 261.00,467.77 261.25,468.04 261.50,468.25 261.75,468.42 262.00,468.54 262.25,468.62 262.50,468.69 262.75,468.73 263.00,468.75 263.25,468.77 263.50,468.78 263.75,468.79 264.00,468.79 264.25,468.80 264.50,468.80 264.75,468.80 265.00,468.80 265.25,468.80 265.50,468.80 265.75,468.80 266.00,468.80 266.25,468.80 266.50,468.80 266.75,468.80 267.00,468.80 267.25,468.80 267.50,468.80 267.75,468.80 268.00,468.80 268.25,468.80 268.50,468.80 268.75,468.80 269.00,468.80 269.25,468.80 269.50,468.80 269.75,468.80 270.00,468.80 270.25,468.80 270.50,468.80 270.75,468.80 271.00,468.80 271.25,468.80 271.50,468.79 271.75,468.79 272.00,468.78 272.25,468.77 272.50,468.76 272.75,468.73 273.00,468.70 273.25,468.64 273.50,468.57 273.75,468.47 274.00,468.33 274.25,468.15 274.50,467.90 274.75,467.58 275.00,467.17 275.25,466.66 275.50,466.03 275.75,465.27 276.00,464.37 276.25,463.33 276.50,462.14 276.75,460.83 277.00,459.41 277.25,457.91 277.50,456.37 277.75,454.82 278.00,453.33 278.25,451.94 278.50,450.71 278.75,449.69 279.00,448.93 279.25,448.46 279.50,448.30 279.75,448.42 280.00,448.78 280.25,449.36 280.50,450.15 280.75,451.11 281.00,452.23 281.25,453.45 281.50,454.75 281.75,456.10 282.00,457.44 282.25,458.77 282.50,460.04 282.75,461.25 283.00,462.36 283.25,463.37 283.50,464.28 283.75,465.08 284.00,465.78 284.25,466.37 284.50,466.87 284.75,467.29 285.00,467.63 285.25,467.90 285.50,468.12 285.75,468.29 286.00,468.42 286.25,468.52 286.50,468.60 286.75,468.66 287.00,468.70 287.25,468.73 287.50,468.75 287.75,468.77 288.00,468.78 288.25,468.79 288.50,468.79 288.75,468.79 289.00,468.80 289.25,468.80 289.50,468.80 289.75,468.80 290.00,468.80 290.25,468.80 290.50,468.80 290.75,468.80 291.00,468.80 291.25,468.80 291.50,468.80 291.75,468.80 292.00,468.80 292.25,468.80 292.50,468.80 292.75,468.80 293.00,468.80 293.25,468.80 293.50,468.80 293.75,468.80 294.00,468.80 294.25,468.80 294.50,468.80 294.75,468.80 295.00,468.80 295.25,468.80 295.50,468.80 295.75,468.80 296.00,468.80 296.25,468.80 296.50,468.80 296.75,468.80 297.00,468.80 297.25,468.80 297.50,468.80 297.75,468.80 298.00,468.80 298.25,468.80 298.50,468.80 298.75,468.80 299.00,468.80 299.25,468.80 299.50,468.80 299.75,468.80 300.00,468.80 300.25,468.80 300.50,468.80 300.75,468.80 301.00,468.80 301.25,468.80 301.50,468.80 301.75,468.80 302.00,468.80 302.25,468.80 302.50,468.80 302.75,468.80 303.00,468.80 303.25,468.80 303.50,468.80 303.75,468.80 304.00,468.80" fill="none" stroke="#d0137d" stroke-width="2.0" stroke-linejoin="round" stroke-linecap="butt"/>
<polyline points="35.50,599.30 35.75,599.30 36.00,599.30 36.25,599.30 36.50,599.30 36.75,599.30 37.00,599.30 37.25,599.30 37.50,599.30 37.75,599.30 38.00,599.30 38.25,599.30 38.50,599.30 38.75,599.30 39.00,599.30 39.25,599.30 39.50,599.30 39.75,599.30 40.00,599.30 40.25,599.30 40.50,599.30 40.75,599.30 41.00,599.30 41.25,599.30 41.50,599.30 41.75,599.30 42.00,599.30 42.25,599.30 42.50,599.30 42.75,599.30 43.00,599.30 43.25,599.30 43.50,599.30 43.75,599.30 44.00,599.30 44.25,599.30 44.50,599.30 44.75,599.30 45.00,599.30 45.25,599.30 45.50,599.30 45.75,599.30 46.00,599.30 46.25,599.30 46.50,599.30 46.75,599.30 47.00,599.30 47.25,599.30 47.50,599.30 47.75,599.30 48.00,599.30 48.25,599.30 48.50,599.30 48.75,599.30 49.00,599.30 49.25,599.30 49.50,599.30 49.75,599.30 50.00,599.30 50.25,599.30 50.50,599.30 50.75,599.30 51.00,599.30 51.25,599.30 51.50,599.30 51.75,599.30 52.00,599.30 52.25,599.30 52.50,599.30 52.75,599.30 53.00,599.30 53.25,599.30 53.50,599.30 53.75,599.30 54.00,599.30 54.25,599.30 54.50,599.30 54.75,599.30 55.00,599.30 55.25,599.30 55.50,599.30 55.75,599.30 56.00,599.28 56.25,599.24 56.50,599.10 56.75,598.74 57.00,597.86 57.25,595.98 57.50,592.47 57.75,586.71 58.00,578.54 58.25,568.68 58.50,558.91 58.75,551.70 59.00,549.31 59.25,552.87 59.50,561.93 59.75,574.86 60.00,589.53 60.25,603.88 60.50,616.07 60.75,624.53 61.00,628.19 61.25,626.99 61.50,621.98 61.75,614.99 62.00,607.82 62.25,601.61 62.50,596.81 62.75,593.38 63.00,591.18 63.25,590.08 63.50,589.99 63.75,590.71 64.00,591.92 64.25,593.29 64.50,594.51 64.75,595.43 65.00,596.04 65.25,596.39 65.50,596.60 65.75,596.76 66.00,596.91 66.25,597.08 66.50,597.30 66.75,597.53 67.00,597.78 67.25,598.03 67.50,598.27 67.75,598.49 68.00,598.68 68.25,598.83 68.50,598.96 68.75,599.06 69.00,599.14 69.25,599.19 69.50,599.23 69.75,599.25 70.00,599.27 70.25,599.28 70.50,599.29 70.75,599.29 71.00,599.30 71.25,599.30 71.50,599.30 71.75,599.30 72.00,599.30 72.25,599.30 72.50,599.30 72.75,599.30 73.00,599.30 73.25,599.30 73.50,599.30 73.75,599.30 74.00,599.30 74.25,599.30 74.50,599.30 74.75,599.30 75.00,599.30 75.25,599.30 75.50,599.30 75.75,599.30 76.00,599.30 76.25,599.30 76.50,599.30 76.75,599.30 77.00,599.30 77.25,599.30 77.50,599.30 77.75,599.30 78.00,599.30 78.25,599.30 78.50,599.30 78.75,599.30 79.00,599.30 79.25,599.30 79.50,599.30 79.75,599.30 80.00,599.30 80.25,599.30 80.50,599.30 80.75,599.30 81.00,599.30 81.25,599.30 81.50,599.30 81.75,599.30 82.00,599.30 82.25,599.30 82.50,599.30 82.75,599.30 83.00,599.30 83.25,599.30 83.50,599.30 83.75,599.30 84.00,599.30 84.25,599.30 84.50,599.30 84.75,599.30 85.00,599.30 85.25,599.30 85.50,599.30 85.75,599.30 86.00,599.30 86.25,599.30 86.50,599.30 86.75,599.30 87.00,599.30 87.25,599.30 87.50,599.30 87.75,599.30 88.00,599.30 88.25,599.30 88.50,599.30 88.75,599.30 89.00,599.30 89.25,599.30 89.50,599.30 89.75,599.30 90.00,599.30 90.25,599.30 90.50,599.30 90.75,599.30 91.00,599.30 91.25,599.30 91.50,599.30 91.75,599.30 92.00,599.30 92.25,599.30 92.50,599.30 92.75,599.30 93.00,599.30 93.25,599.30 93.50,599.30 93.75,599.30 94.00,599.30 94.25,599.30 94.50,599.30 94.75,599.30 95.00,599.30 95.25,599.30 95.50,599.30 95.75,599.30 96.00,599.30 96.25,599.30 96.50,599.30 96.75,599.30 97.00,599.30 97.25,599.30 97.50,599.30 97.75,599.30 98.00,599.30 98.25,599.30 98.50,599.30 98.75,599.30 99.00,599.30 99.25,599.30 99.50,599.30 99.75,599.30 100.00,599.30 100.25,599.30 100.50,599.30 100.75,599.30 101.00,599.30 101.25,599.30 101.50,599.30 101.75,599.30 102.00,599.30 102.25,599.30 102.50,599.30 102.75,599.30 103.00,599.30 103.25,599.30 103.50,599.30 103.75,599.30 104.00,599.30 104.25,599.30 104.50,599.30 104.75,599.30 105.00,599.30 105.25,599.30 105.50,599.30 105.75,599.30 106.00,599.30 106.25,599.30 106.50,599.30 106.75,599.30 107.00,599.30 107.25,599.30 107.50,599.30 107.75,599.30 108.00,599.30 108.25,599.30 108.50,599.30 108.75,599.30 109.00,599.30 109.25,599.30 109.50,599.30 109.75,599.30 110.00,599.30 110.25,599.30 110.50,599.30 110.75,599.30 111.00,599.30 111.25,599.30 111.50,599.30 111.75,599.30 112.00,599.30 112.25,599.30 112.50,599.30 112.75,599.30 113.00,599.30 113.25,599.30 113.50,599.30 113.75,599.30 114.00,599.30 114.25,599.30 114.50,599.30 114.75,599.30 115.00,599.30 115.25,599.30 115.50,599.30 115.75,599.30 116.00,599.30 116.25,599.30 116.50,599.30 116.75,599.30 117.00,599.30 117.25,599.30 117.50,599.30 117.75,599.30 118.00,599.30 118.25,599.30 118.50,599.30 118.75,599.30 119.00,599.30 119.25,599.30 119.50,599.30 119.75,599.30 120.00,599.30 120.25,599.30 120.50,599.30 120.75,599.30 121.00,599.30 121.25,599.30 121.50,599.30 121.75,599.30 122.00,599.30 122.25,599.29 122.50,599.28 122.75,599.26 123.00,599.20 123.25,599.10 123.50,598.92 123.75,598.65 124.00,598.29 124.25,597.88 124.50,597.49 124.75,597.20 125.00,597.10 125.25,597.20 125.50,597.49 125.75,597.88 126.00,598.29 126.25,598.65 126.50,598.92 126.75,599.10 127.00,599.20 127.25,599.26 127.50,599.28 127.75,599.29 128.00,599.30 128.25,599.30 128.50,599.30 128.75,599.30 129.00,599.30 129.25,599.30 129.50,599.30 129.75,599.30 130.00,599.30 130.25,599.30 130.50,599.30 130.75,599.30 131.00,599.30 131.25,599.30 131.50,599.30 131.75,599.30 132.00,599.30 132.25,599.30 132.50,599.30 132.75,599.30 133.00,599.30 133.25,599.29 133.50,599.28 133.75,599.25 134.00,599.17 134.25,598.98 134.50,598.54 134.75,597.61 135.00,595.80 135.25,592.55 135.50,587.14 135.75,578.86 136.00,567.24 136.25,552.38 136.50,535.23 136.75,517.65 137.00,502.22 137.25,491.59 137.50,487.80 137.75,490.40 138.00,497.86 138.25,509.16 138.50,522.90 138.75,537.54 139.00,551.67 139.25,564.27 139.50,574.72 139.75,582.85 140.00,588.80 140.25,592.91 140.50,595.59 140.75,597.24 141.00,598.21 141.25,598.75 141.50,599.04 141.75,599.18 142.00,599.25 142.25,599.28 142.50,599.29 142.75,599.30 143.00,599.30 143.25,599.30 143.50,599.30 143.75,599.30 144.00,599.30 144.25,599.30 144.50,599.30 144.75,599.30 145.00,599.30 145.25,599.30 145.50,599.30 145.75,599.30 146.00,599.30 146.25,599.30 146.50,599.30 146.75,599.30 147.00,599.30 147.25,599.30 147.50,599.30 147.75,599.30 148.00,599.30 148.25,599.30 148.50,599.30 148.75,599.30 149.00,599.30 149.25,599.30 149.50,599.30 149.75,599.29 150.00,599.28 150.25,599.26 150.50,599.21 150.75,599.10 151.00,598.89 151.25,598.49 151.50,597.82 151.75,596.76 152.00,595.18 152.25,593.04 152.50,590.37 152.75,587.31 153.00,584.20 153.25,581.42 153.50,579.42 153.75,578.53 154.00,578.91 154.25,580.50 154.50,583.02 154.75,586.05 155.00,589.18 155.25,592.03 155.50,594.40 155.75,596.19 156.00,597.45 156.25,598.27 156.50,598.76 156.75,599.03 157.00,599.18 157.25,599.25 157.50,599.28 157.75,599.29 158.00,599.29 158.25,599.29 158.50,599.29 158.75,599.27 159.00,599.23 159.25,599.16 159.50,599.03 159.75,598.81 160.00,598.46 160.25,597.96 160.50,597.29 160.75,596.46 161.00,595.54 161.25,594.62 161.50,593.83 161.75,593.29 162.00,593.10 162.25,593.29 162.50,593.83 162.75,594.62 163.00,595.54 163.25,596.46 163.50,597.29 163.75,597.96 164.00,598.46 164.25,598.81 164.50,599.03 164.75,599.16 165.00,599.23 165.25,599.27 165.50,599.29 165.75,599.29 166.00,599.30 166.25,599.30 166.50,599.30 166.75,599.30 167.00,599.30 167.25,599.30 167.50,599.30 167.75,599.30 168.00,599.30 168.25,599.30 168.50,599.30 168.75,599.30 169.00,599.30 169.25,599.30 169.50,599.30 169.75,599.30 170.00,599.30 170.25,599.30 170.50,599.30 170.75,599.30 171.00,599.30 171.25,599.30 171.50,599.30 171.75,599.30 172.00,599.30 172.25,599.30 172.50,599.30 172.75,599.30 173.00,599.30 173.25,599.30 173.50,599.30 173.75,599.30 174.00,599.30 174.25,599.30 174.50,599.30 174.75,599.30 175.00,599.30 175.25,599.30 175.50,599.30 175.75,599.30 176.00,599.30 176.25,599.30 176.50,599.30 176.75,599.30 177.00,599.30 177.25,599.30 177.50,599.30 177.75,599.30 178.00,599.30 178.25,599.30 178.50,599.30 178.75,599.30 179.00,599.30 179.25,599.30 179.50,599.30 179.75,599.30 180.00,599.30 180.25,599.30 180.50,599.30 180.75,599.30 181.00,599.30 181.25,599.30 181.50,599.30 181.75,599.30 182.00,599.30 182.25,599.30 182.50,599.30 182.75,599.30 183.00,599.30 183.25,599.30 183.50,599.30 183.75,599.30 184.00,599.30 184.25,599.30 184.50,599.30 184.75,599.30 185.00,599.30 185.25,599.30 185.50,599.30 185.75,599.30 186.00,599.30 186.25,599.30 186.50,599.30 186.75,599.30 187.00,599.30 187.25,599.30 187.50,599.30 187.75,599.29 188.00,599.28 188.25,599.25 188.50,599.21 188.75,599.13 189.00,599.00 189.25,598.78 189.50,598.46 189.75,598.01 190.00,597.42 190.25,596.70 190.50,595.88 190.75,595.03 191.00,594.24 191.25,593.60 191.50,593.20 191.75,593.11 192.00,593.33 192.25,593.83 192.50,594.54 192.75,595.37 193.00,596.22 193.25,597.00 193.50,597.67 193.75,598.21 194.00,598.60 194.25,598.88 194.50,599.06 194.75,599.17 195.00,599.23 195.25,599.27 195.50,599.28 195.75,599.29 196.00,599.30 196.25,599.30 196.50,599.30 196.75,599.30 197.00,599.30 197.25,599.30 197.50,599.30 197.75,599.30 198.00,599.30 198.25,599.30 198.50,599.30 198.75,599.30 199.00,599.30 199.25,599.30 199.50,599.30 199.75,599.30 200.00,599.30 200.25,599.30 200.50,599.30 200.75,599.30 201.00,599.30 201.25,599.30 201.50,599.30 201.75,599.30 202.00,599.30 202.25,599.30 202.50,599.30 202.75,599.30 203.00,599.30 203.25,599.30 203.50,599.30 203.75,599.30 204.00,599.30 204.25,599.30 204.50,599.30 204.75,599.30 205.00,599.30 205.25,599.30 205.50,599.30 205.75,599.30 206.00,599.30 206.25,599.30 206.50,599.30 206.75,599.30 207.00,599.30 207.25,599.30 207.50,599.30 207.75,599.30 208.00,599.30 208.25,599.30 208.50,599.30 208.75,599.30 209.00,599.30 209.25,599.30 209.50,599.30 209.75,599.30 210.00,599.30 210.25,599.30 210.50,599.30 210.75,599.30 211.00,599.30 211.25,599.30 211.50,599.30 211.75,599.30 212.00,599.30 212.25,599.30 212.50,599.30 212.75,599.30 213.00,599.30 213.25,599.30 213.50,599.30 213.75,599.30 214.00,599.30 214.25,599.30 214.50,599.30 214.75,599.30 215.00,599.30 215.25,599.30 215.50,599.30 215.75,599.30 216.00,599.30 216.25,599.30 216.50,599.30 216.75,599.30 217.00,599.30 217.25,599.30 217.50,599.30 217.75,599.30 218.00,599.30 218.25,599.30 218.50,599.30 218.75,599.30 219.00,599.30 219.25,599.30 219.50,599.30 219.75,599.30 220.00,599.30 220.25,599.30 220.50,599.30 220.75,599.30 221.00,599.30 221.25,599.30 221.50,599.30 221.75,599.30 222.00,599.30 222.25,599.30 222.50,599.30 222.75,599.30 223.00,599.30 223.25,599.30 223.50,599.30 223.75,599.30 224.00,599.30 224.25,599.30 224.50,599.30 224.75,599.30 225.00,599.30 225.25,599.30 225.50,599.30 225.75,599.30 226.00,599.30 226.25,599.30 226.50,599.30 226.75,599.30 227.00,599.30 227.25,599.30 227.50,599.30 227.75,599.30 228.00,599.30 228.25,599.30 228.50,599.30 228.75,599.30 229.00,599.30 229.25,599.30 229.50,599.30 229.75,599.30 230.00,599.30 230.25,599.30 230.50,599.30 230.75,599.30 231.00,599.30 231.25,599.30 231.50,599.30 231.75,599.30 232.00,599.30 232.25,599.30 232.50,599.30 232.75,599.30 233.00,599.30 233.25,599.30 233.50,599.30 233.75,599.30 234.00,599.30 234.25,599.30 234.50,599.30 234.75,599.30 235.00,599.30 235.25,599.30 235.50,599.30 235.75,599.30 236.00,599.30 236.25,599.30 236.50,599.30 236.75,599.30 237.00,599.30 237.25,599.30 237.50,599.30 237.75,599.30 238.00,599.30 238.25,599.30 238.50,599.30 238.75,599.30 239.00,599.30 239.25,599.30 239.50,599.30 239.75,599.30 240.00,599.30 240.25,599.30 240.50,599.30 240.75,599.30 241.00,599.30 241.25,599.30 241.50,599.30 241.75,599.30 242.00,599.30 242.25,599.30 242.50,599.30 242.75,599.30 243.00,599.30 243.25,599.30 243.50,599.30 243.75,599.30 244.00,599.30 244.25,599.30 244.50,599.30 244.75,599.30 245.00,599.30 245.25,599.30 245.50,599.30 245.75,599.30 246.00,599.30 246.25,599.30 246.50,599.30 246.75,599.30 247.00,599.30 247.25,599.30 247.50,599.30 247.75,599.30 248.00,599.30 248.25,599.30 248.50,599.30 248.75,599.30 249.00,599.30 249.25,599.30 249.50,599.30 249.75,599.30 250.00,599.30 250.25,599.30 250.50,599.30 250.75,599.30 251.00,599.30 251.25,599.30 251.50,599.30 251.75,599.30 252.00,599.30 252.25,599.30 252.50,599.30 252.75,599.30 253.00,599.29 253.25,599.29 253.50,599.28 253.75,599.26 254.00,599.24 254.25,599.20 254.50,599.15 254.75,599.06 255.00,598.95 255.25,598.78 255.50,598.57 255.75,598.29 256.00,597.95 256.25,597.55 256.50,597.08 256.75,596.57 257.00,596.02 257.25,595.48 257.50,594.98 257.75,594.53 258.00,594.19 258.25,593.97 258.50,593.90 258.75,593.97 259.00,594.19 259.25,594.53 259.50,594.98 259.75,595.48 260.00,596.02 260.25,596.57 260.50,597.08 260.75,597.55 261.00,597.95 261.25,598.29 261.50,598.57 261.75,598.78 262.00,598.95 262.25,599.06 262.50,599.15 262.75,599.20 263.00,599.24 263.25,599.26 263.50,599.28 263.75,599.29 264.00,599.29 264.25,599.30 264.50,599.30 264.75,599.30 265.00,599.30 265.25,599.30 265.50,599.30 265.75,599.30 266.00,599.30 266.25,599.30 266.50,599.30 266.75,599.30 267.00,599.30 267.25,599.30 267.50,599.30 267.75,599.30 268.00,599.30 268.25,599.30 268.50,599.30 268.75,599.30 269.00,599.30 269.25,599.30 269.50,599.30 269.75,599.30 270.00,599.30 270.25,599.30 270.50,599.30 270.75,599.30 271.00,599.30 271.25,599.30 271.50,599.29 271.75,599.29 272.00,599.28 272.25,599.27 272.50,599.26 272.75,599.23 273.00,599.20 273.25,599.14 273.50,599.07 273.75,598.97 274.00,598.83 274.25,598.65 274.50,598.40 274.75,598.08 275.00,597.67 275.25,597.16 275.50,596.53 275.75,595.77 276.00,594.87 276.25,593.83 276.50,592.64 276.75,591.33 277.00,589.91 277.25,588.41 277.50,586.87 277.75,585.32 278.00,583.83 278.25,582.44 278.50,581.21 278.75,580.19 279.00,579.43 279.25,578.96 279.50,578.80 279.75,578.92 280.00,579.28 280.25,579.86 280.50,580.65 280.75,581.61 281.00,582.73 281.25,583.95 281.50,585.25 281.75,586.60 282.00,587.94 282.25,589.27 282.50,590.54 282.75,591.75 283.00,592.86 283.25,593.87 283.50,594.78 283.75,595.58 284.00,596.28 284.25,596.87 284.50,597.37 284.75,597.79 285.00,598.13 285.25,598.40 285.50,598.62 285.75,598.79 286.00,598.92 286.25,599.02 286.50,599.10 286.75,599.16 287.00,599.20 287.25,599.23 287.50,599.25 287.75,599.27 288.00,599.28 288.25,599.29 288.50,599.29 288.75,599.29 289.00,599.30 289.25,599.30 289.50,599.30 289.75,599.30 290.00,599.30 290.25,599.30 290.50,599.30 290.75,599.30 291.00,599.30 291.25,599.30 291.50,599.30 291.75,599.30 292.00,599.30 292.25,599.30 292.50,599.30 292.75,599.30 293.00,599.30 293.25,599.30 293.50,599.30 293.75,599.30 294.00,599.30 294.25,599.30 294.50,599.30 294.75,599.30 295.00,599.30 295.25,599.30 295.50,599.30 295.75,599.30 296.00,599.30 296.25,599.30 296.50,599.30 296.75,599.30 297.00,599.30 297.25,599.30 297.50,599.30 297.75,599.30 298.00,599.30 298.25,599.30 298.50,599.30 298.75,599.30 299.00,599.30 299.25,599.30 299.50,599.30 299.75,599.30 300.00,599.30 300.25,599.30 300.50,599.30 300.75,599.30 301.00,599.30 301.25,599.30 301.50,599.30 301.75,599.30 302.00,599.30 302.25,599.30 302.50,599.30 302.75,599.30 303.00,599.30 303.25,599.30 303.50,599.30 303.75,599.30 304.00,599.30" fill="none" stroke="#13925f" stroke-width="2.0" stroke-linejoin="round" stroke-linecap="butt"/>
<text x="351.81" y="30.50" textLength="25.82" lengthAdjust="spacingAndGlyphs" style="font-family:&quot;Liberation Sans&quot;,sans-serif;font-weight:bold;font-size:41px;font-kerning:none;" fill="#000" >b</text>
<text x="412.58" y="49.60" textLength="67.24" lengthAdjust="spacingAndGlyphs" style="font-size:25.2px;font-kerning:none;" fill="#000" ><tspan style="font-family:&quot;Liberation Sans&quot;,sans-serif;">13-</tspan><tspan style="font-family:&quot;Liberation Sans&quot;,sans-serif;font-style:italic;">cis</tspan></text>
<rect x="413.90" y="46.92" width="5.02" height="3.48" fill="#fff"/>
<rect x="421.14" y="46.92" width="4.82" height="3.48" fill="#fff"/>
<line x1="463.80" y1="55.00" x2="488.00" y2="80.80" stroke="#000" stroke-width="1.6" stroke-linecap="butt"/>
<line x1="479.60" y1="60.00" x2="479.60" y2="326.30" stroke="#000" stroke-width="1.9" stroke-linecap="butt"/>
<line x1="923.00" y1="60.00" x2="923.00" y2="326.30" stroke="#000" stroke-width="1.9" stroke-linecap="butt"/>
<line x1="478.70" y1="60.90" x2="923.90" y2="60.90" stroke="#000" stroke-width="1.8" stroke-linecap="butt"/>
<line x1="478.70" y1="325.40" x2="923.90" y2="325.40" stroke="#000" stroke-width="1.8" stroke-linecap="butt"/>
<line x1="481.90" y1="61.00" x2="481.90" y2="77.50" stroke="#000" stroke-width="1.8" stroke-linecap="butt"/>
<line x1="481.90" y1="324.50" x2="481.90" y2="341.50" stroke="#000" stroke-width="1.8" stroke-linecap="butt"/>
<line x1="569.60" y1="61.00" x2="569.60" y2="77.50" stroke="#000" stroke-width="1.8" stroke-linecap="butt"/>
<line x1="569.60" y1="324.50" x2="569.60" y2="341.50" stroke="#000" stroke-width="1.8" stroke-linecap="butt"/>
<line x1="657.30" y1="61.00" x2="657.30" y2="77.50" stroke="#000" stroke-width="1.8" stroke-linecap="butt"/>
<line x1="657.30" y1="324.50" x2="657.30" y2="341.50" stroke="#000" stroke-width="1.8" stroke-linecap="butt"/>
<line x1="745.00" y1="61.00" x2="745.00" y2="77.50" stroke="#000" stroke-width="1.8" stroke-linecap="butt"/>
<line x1="745.00" y1="324.50" x2="745.00" y2="341.50" stroke="#000" stroke-width="1.8" stroke-linecap="butt"/>
<line x1="832.70" y1="61.00" x2="832.70" y2="77.50" stroke="#000" stroke-width="1.8" stroke-linecap="butt"/>
<line x1="832.70" y1="324.50" x2="832.70" y2="341.50" stroke="#000" stroke-width="1.8" stroke-linecap="butt"/>
<line x1="920.40" y1="61.00" x2="920.40" y2="77.50" stroke="#000" stroke-width="1.8" stroke-linecap="butt"/>
<line x1="920.40" y1="324.50" x2="920.40" y2="341.50" stroke="#000" stroke-width="1.8" stroke-linecap="butt"/>
<line x1="479.60" y1="63.80" x2="493.70" y2="63.80" stroke="#000" stroke-width="1.8" stroke-linecap="butt"/>
<line x1="909.30" y1="63.80" x2="923.00" y2="63.80" stroke="#000" stroke-width="1.8" stroke-linecap="butt"/>
<line x1="479.60" y1="149.80" x2="493.70" y2="149.80" stroke="#000" stroke-width="1.8" stroke-linecap="butt"/>
<line x1="909.30" y1="149.80" x2="923.00" y2="149.80" stroke="#000" stroke-width="1.8" stroke-linecap="butt"/>
<line x1="479.60" y1="235.30" x2="493.70" y2="235.30" stroke="#000" stroke-width="1.8" stroke-linecap="butt"/>
<line x1="909.30" y1="235.30" x2="923.00" y2="235.30" stroke="#000" stroke-width="1.8" stroke-linecap="butt"/>
<line x1="479.60" y1="321.70" x2="493.70" y2="321.70" stroke="#000" stroke-width="1.8" stroke-linecap="butt"/>
<line x1="909.30" y1="321.70" x2="923.00" y2="321.70" stroke="#000" stroke-width="1.8" stroke-linecap="butt"/>
<text x="474.89" y="371.70" textLength="14.43" lengthAdjust="spacingAndGlyphs" style="font-family:&quot;Liberation Sans&quot;,sans-serif;font-size:24.8px;font-kerning:none;" fill="#000" >0</text>
<text x="555.10" y="371.70" textLength="28.71" lengthAdjust="spacingAndGlyphs" style="font-family:&quot;Liberation Sans&quot;,sans-serif;font-size:24.8px;font-kerning:none;" fill="#000" >20</text>
<text x="643.23" y="371.70" textLength="27.85" lengthAdjust="spacingAndGlyphs" style="font-family:&quot;Liberation Sans&quot;,sans-serif;font-size:24.8px;font-kerning:none;" fill="#000" >40</text>
<text x="730.58" y="371.70" textLength="28.83" lengthAdjust="spacingAndGlyphs" style="font-family:&quot;Liberation Sans&quot;,sans-serif;font-size:24.8px;font-kerning:none;" fill="#000" >60</text>
<text x="818.08" y="371.70" textLength="28.62" lengthAdjust="spacingAndGlyphs" style="font-family:&quot;Liberation Sans&quot;,sans-serif;font-size:24.8px;font-kerning:none;" fill="#000" >80</text>
<text x="899.62" y="371.70" textLength="79.82" lengthAdjust="spacingAndGlyphs" style="font-family:&quot;Liberation Sans&quot;,sans-serif;font-size:24.8px;font-kerning:none;" fill="#000" >100(%)</text>
<rect x="900.90" y="369.05" width="4.94" height="3.45" fill="#fff"/>
<rect x="908.03" y="369.05" width="4.75" height="3.45" fill="#fff"/>
<text x="370.96" y="119.60" textLength="52.61" lengthAdjust="spacingAndGlyphs" style="font-family:&quot;Liberation Sans&quot;,sans-serif;font-size:25.4px;font-kerning:none;" fill="#000" >Dark</text>
<text x="352.83" y="166.80" textLength="103.80" lengthAdjust="spacingAndGlyphs" style="font-family:&quot;Liberation Sans&quot;,sans-serif;font-size:25.6px;font-kerning:none;" fill="#000" >Light and</text>
<text x="353.43" y="196.30" textLength="103.18" lengthAdjust="spacingAndGlyphs" style="font-family:&quot;Liberation Sans&quot;,sans-serif;font-size:25.6px;font-kerning:none;" fill="#000" >extracted</text>
<text x="352.84" y="226.60" textLength="104.41" lengthAdjust="spacingAndGlyphs" style="font-family:&quot;Liberation Sans&quot;,sans-serif;font-size:25.6px;font-kerning:none;" fill="#000" >at –72 °C</text>
<text x="352.83" y="267.60" textLength="103.80" lengthAdjust="spacingAndGlyphs" style="font-family:&quot;Liberation Sans&quot;,sans-serif;font-size:25.6px;font-kerning:none;" fill="#000" >Light and</text>
<text x="353.43" y="297.20" textLength="103.18" lengthAdjust="spacingAndGlyphs" style="font-family:&quot;Liberation Sans&quot;,sans-serif;font-size:25.6px;font-kerning:none;" fill="#000" >extracted</text>
<text x="366.74" y="327.30" textLength="76.61" lengthAdjust="spacingAndGlyphs" style="font-family:&quot;Liberation Sans&quot;,sans-serif;font-size:25.6px;font-kerning:none;" fill="#000" >at 0 °C</text>
<rect x="483.20" y="81.60" width="436.30" height="52.30" fill="#fff" stroke="#000" stroke-width="1.8"/>
<rect x="483.20" y="81.60" width="22.80" height="52.30" fill="#000" stroke="#000" stroke-width="1.8"/>
<rect x="483.20" y="166.90" width="419.60" height="52.50" fill="#fff" stroke="#000" stroke-width="1.8"/>
<rect x="700.20" y="166.90" width="65.30" height="52.50" fill="#b3b3b3" stroke="#000" stroke-width="1.8"/>
<rect x="765.50" y="166.90" width="137.30" height="52.50" fill="#f6c8dc" stroke="#000" stroke-width="1.8"/>
<rect x="483.20" y="166.90" width="19.80" height="52.50" fill="#000" stroke="#000" stroke-width="1.8"/>
<rect x="483.20" y="252.10" width="290.10" height="52.90" fill="#fff" stroke="#000" stroke-width="1.8"/>
<rect x="705.00" y="252.10" width="63.80" height="52.90" fill="#b3b3b3" stroke="#000" stroke-width="1.8"/>
<rect x="768.80" y="252.10" width="4.50" height="52.90" fill="#f6c8dc" stroke="#000" stroke-width="1.8"/>
<rect x="483.20" y="252.10" width="19.80" height="52.90" fill="#000" stroke="#000" stroke-width="1.8"/>
<line x1="505.60" y1="133.90" x2="503.00" y2="166.90" stroke="#000" stroke-width="1.6" stroke-linecap="butt"/>
<line x1="919.50" y1="133.90" x2="700.20" y2="166.90" stroke="#000" stroke-width="1.6" stroke-linecap="butt"/>
<line x1="503.00" y1="219.40" x2="503.00" y2="252.10" stroke="#000" stroke-width="1.6" stroke-linecap="butt"/>
<line x1="700.20" y1="219.40" x2="705.00" y2="252.10" stroke="#000" stroke-width="1.6" stroke-linecap="butt"/>
<line x1="765.50" y1="219.40" x2="768.80" y2="252.10" stroke="#000" stroke-width="1.6" stroke-linecap="butt"/>
<line x1="902.80" y1="219.40" x2="773.30" y2="252.10" stroke="#000" stroke-width="1.6" stroke-linecap="butt"/>
<text x="647.25" y="119.20" textLength="91.96" lengthAdjust="spacingAndGlyphs" style="font-size:25.4px;font-kerning:none;" fill="#000" ><tspan style="font-family:&quot;Liberation Sans&quot;,sans-serif;">All-</tspan><tspan style="font-family:&quot;Liberation Sans&quot;,sans-serif;font-style:italic;">trans</tspan></text>
<text x="704.28" y="202.00" textLength="54.75" lengthAdjust="spacingAndGlyphs" style="font-size:25.0px;font-kerning:none;" fill="#000" ><tspan style="font-family:&quot;Liberation Sans&quot;,sans-serif;">9-</tspan><tspan style="font-family:&quot;Liberation Sans&quot;,sans-serif;font-style:italic;">cis</tspan></text>
<text x="799.57" y="202.00" textLength="67.35" lengthAdjust="spacingAndGlyphs" style="font-size:25.0px;font-kerning:none;" fill="#000" ><tspan style="font-family:&quot;Liberation Sans&quot;,sans-serif;">11-</tspan><tspan style="font-family:&quot;Liberation Sans&quot;,sans-serif;font-style:italic;">cis</tspan></text>
<rect x="800.89" y="199.33" width="5.03" height="3.47" fill="#f6c8dc"/>
<rect x="808.15" y="199.33" width="4.83" height="3.47" fill="#f6c8dc"/>
<rect x="814.94" y="199.33" width="5.03" height="3.47" fill="#f6c8dc"/>
<rect x="822.19" y="199.33" width="4.83" height="3.47" fill="#f6c8dc"/>
<text x="351.64" y="440.00" textLength="23.60" lengthAdjust="spacingAndGlyphs" style="font-family:&quot;Liberation Sans&quot;,sans-serif;font-weight:bold;font-size:42.5px;font-kerning:none;" fill="#000" >c</text>
<line x1="564.30" y1="460.90" x2="583.70" y2="472.10" stroke="#000" stroke-width="2.0" stroke-linecap="butt"/>
<line x1="583.70" y1="494.50" x2="564.30" y2="505.70" stroke="#000" stroke-width="2.0" stroke-linecap="butt"/>
<line x1="564.30" y1="505.70" x2="544.90" y2="494.50" stroke="#000" stroke-width="2.0" stroke-linecap="butt"/>
<line x1="544.90" y1="494.50" x2="544.90" y2="472.10" stroke="#000" stroke-width="2.0" stroke-linecap="butt"/>
<line x1="544.90" y1="472.10" x2="564.30" y2="460.90" stroke="#000" stroke-width="2.0" stroke-linecap="butt"/>
<line x1="583.70" y1="472.10" x2="583.70" y2="494.50" stroke="#000" stroke-width="2.0" stroke-linecap="butt"/>
<line x1="579.90" y1="474.10" x2="579.90" y2="492.50" stroke="#000" stroke-width="2.0" stroke-linecap="butt"/>
<line x1="564.30" y1="460.90" x2="552.76" y2="440.92" stroke="#000" stroke-width="2.0" stroke-linecap="butt"/>
<line x1="564.30" y1="460.90" x2="575.84" y2="440.92" stroke="#000" stroke-width="2.0" stroke-linecap="butt"/>
<line x1="583.70" y1="494.50" x2="603.10" y2="505.70" stroke="#000" stroke-width="2.0" stroke-linecap="butt"/>
<line x1="583.70" y1="472.10" x2="603.10" y2="460.90" stroke="#000" stroke-width="2.0" stroke-linecap="butt"/>
<line x1="603.10" y1="460.90" x2="622.50" y2="472.10" stroke="#000" stroke-width="2.0" stroke-linecap="butt"/>
<line x1="606.63" y1="458.78" x2="622.57" y2="467.98" stroke="#000" stroke-width="2.0" stroke-linecap="butt"/>
<line x1="622.50" y1="472.10" x2="641.90" y2="460.90" stroke="#000" stroke-width="2.0" stroke-linecap="butt"/>
<line x1="641.90" y1="460.90" x2="641.90" y2="437.83" stroke="#000" stroke-width="2.0" stroke-linecap="butt"/>
<line x1="641.90" y1="460.90" x2="661.30" y2="472.10" stroke="#000" stroke-width="2.0" stroke-linecap="butt"/>
<line x1="645.43" y1="458.78" x2="661.37" y2="467.98" stroke="#000" stroke-width="2.0" stroke-linecap="butt"/>
<line x1="661.30" y1="472.10" x2="680.70" y2="460.90" stroke="#000" stroke-width="2.0" stroke-linecap="butt"/>
<line x1="680.70" y1="460.90" x2="700.10" y2="472.10" stroke="#000" stroke-width="2.0" stroke-linecap="butt"/>
<line x1="684.23" y1="458.78" x2="700.17" y2="467.98" stroke="#000" stroke-width="2.0" stroke-linecap="butt"/>
<line x1="700.10" y1="472.10" x2="719.50" y2="460.90" stroke="#000" stroke-width="2.0" stroke-linecap="butt"/>
<line x1="719.50" y1="460.90" x2="719.50" y2="437.83" stroke="#000" stroke-width="2.0" stroke-linecap="butt"/>
<line x1="719.50" y1="460.90" x2="738.90" y2="472.10" stroke="#000" stroke-width="2.0" stroke-linecap="butt"/>
<line x1="723.03" y1="458.78" x2="738.97" y2="467.98" stroke="#000" stroke-width="2.0" stroke-linecap="butt"/>
<line x1="738.90" y1="472.10" x2="758.30" y2="460.90" stroke="#000" stroke-width="2.0" stroke-linecap="butt"/>
<line x1="758.30" y1="460.90" x2="772.27" y2="468.96" stroke="#000" stroke-width="2.0" stroke-linecap="butt"/>
<line x1="760.97" y1="458.28" x2="773.20" y2="465.35" stroke="#000" stroke-width="2.0" stroke-linecap="butt"/>
<text x="774.13" y="474.70" textLength="7.63" lengthAdjust="spacingAndGlyphs" style="font-family:&quot;Liberation Sans&quot;,sans-serif;font-size:10.5px;font-kerning:none;" fill="#000" >N</text>
<line x1="779.40" y1="463.40" x2="783.20" y2="463.40" stroke="#000" stroke-width="0.95" stroke-linecap="butt"/>
<line x1="781.30" y1="461.50" x2="781.30" y2="465.30" stroke="#000" stroke-width="0.95" stroke-linecap="butt"/>
<text x="774.13" y="484.70" textLength="7.63" lengthAdjust="spacingAndGlyphs" style="font-family:&quot;Liberation Sans&quot;,sans-serif;font-size:10.5px;font-kerning:none;" fill="#000" >H</text>
<line x1="783.70" y1="469.20" x2="791.80" y2="464.30" stroke="#000" stroke-width="2.0" stroke-linecap="butt"/>
<text x="793.13" y="464.70" textLength="34.13" lengthAdjust="spacingAndGlyphs" style="font-family:&quot;Liberation Sans&quot;,sans-serif;font-size:11.0px;font-kerning:none;" fill="#222" >Lys296</text>
<text x="621.55" y="506.00" textLength="92.57" lengthAdjust="spacingAndGlyphs" style="font-size:25.5px;font-kerning:none;" fill="#000" ><tspan style="font-family:&quot;Liberation Sans&quot;,sans-serif;">All-</tspan><tspan style="font-family:&quot;Liberation Sans&quot;,sans-serif;font-style:italic;">trans</tspan></text>
<line x1="386.80" y1="555.45" x2="406.30" y2="566.70" stroke="#000" stroke-width="2.0" stroke-linecap="butt"/>
<line x1="406.30" y1="589.20" x2="386.80" y2="600.45" stroke="#000" stroke-width="2.0" stroke-linecap="butt"/>
<line x1="386.80" y1="600.45" x2="367.30" y2="589.20" stroke="#000" stroke-width="2.0" stroke-linecap="butt"/>
<line x1="367.30" y1="589.20" x2="367.30" y2="566.70" stroke="#000" stroke-width="2.0" stroke-linecap="butt"/>
<line x1="367.30" y1="566.70" x2="386.80" y2="555.45" stroke="#000" stroke-width="2.0" stroke-linecap="butt"/>
<line x1="406.30" y1="566.70" x2="406.30" y2="589.20" stroke="#000" stroke-width="2.0" stroke-linecap="butt"/>
<line x1="402.50" y1="568.70" x2="402.50" y2="587.20" stroke="#000" stroke-width="2.0" stroke-linecap="butt"/>
<line x1="386.80" y1="555.45" x2="375.21" y2="535.37" stroke="#000" stroke-width="2.0" stroke-linecap="butt"/>
<line x1="386.80" y1="555.45" x2="398.39" y2="535.37" stroke="#000" stroke-width="2.0" stroke-linecap="butt"/>
<line x1="406.30" y1="589.20" x2="425.80" y2="600.45" stroke="#000" stroke-width="2.0" stroke-linecap="butt"/>
<line x1="406.30" y1="566.70" x2="425.80" y2="555.45" stroke="#000" stroke-width="2.0" stroke-linecap="butt"/>
<line x1="425.80" y1="555.45" x2="445.30" y2="566.70" stroke="#000" stroke-width="2.0" stroke-linecap="butt"/>
<line x1="429.33" y1="553.33" x2="445.37" y2="562.58" stroke="#000" stroke-width="2.0" stroke-linecap="butt"/>
<line x1="445.30" y1="566.70" x2="464.80" y2="555.45" stroke="#000" stroke-width="2.0" stroke-linecap="butt"/>
<line x1="464.80" y1="555.45" x2="464.80" y2="532.28" stroke="#000" stroke-width="2.0" stroke-linecap="butt"/>
<line x1="464.80" y1="555.45" x2="484.30" y2="566.70" stroke="#000" stroke-width="2.0" stroke-linecap="butt"/>
<line x1="464.73" y1="559.57" x2="480.77" y2="568.82" stroke="#000" stroke-width="2.0" stroke-linecap="butt"/>
<line x1="484.30" y1="566.70" x2="484.30" y2="589.20" stroke="#000" stroke-width="2.0" stroke-linecap="butt"/>
<line x1="484.30" y1="589.20" x2="503.80" y2="600.45" stroke="#000" stroke-width="2.0" stroke-linecap="butt"/>
<line x1="487.83" y1="587.08" x2="503.87" y2="596.33" stroke="#000" stroke-width="2.0" stroke-linecap="butt"/>
<line x1="503.80" y1="600.45" x2="503.80" y2="622.95" stroke="#000" stroke-width="2.0" stroke-linecap="butt"/>
<line x1="503.80" y1="622.95" x2="484.30" y2="634.20" stroke="#000" stroke-width="2.0" stroke-linecap="butt"/>
<line x1="503.80" y1="622.95" x2="523.30" y2="634.20" stroke="#000" stroke-width="2.0" stroke-linecap="butt"/>
<line x1="503.73" y1="627.07" x2="519.77" y2="636.32" stroke="#000" stroke-width="2.0" stroke-linecap="butt"/>
<line x1="523.30" y1="634.20" x2="523.30" y2="656.70" stroke="#000" stroke-width="2.0" stroke-linecap="butt"/>
<line x1="523.30" y1="656.70" x2="537.34" y2="664.80" stroke="#000" stroke-width="2.0" stroke-linecap="butt"/>
<line x1="525.97" y1="654.08" x2="538.27" y2="661.18" stroke="#000" stroke-width="2.0" stroke-linecap="butt"/>
<text x="538.42" y="669.60" textLength="15.45" lengthAdjust="spacingAndGlyphs" style="font-family:&quot;Liberation Sans&quot;,sans-serif;font-size:10.6px;font-kerning:none;" fill="#000" >NH</text>
<line x1="542.40" y1="655.70" x2="546.20" y2="655.70" stroke="#000" stroke-width="0.95" stroke-linecap="butt"/>
<line x1="544.30" y1="653.80" x2="544.30" y2="657.60" stroke="#000" stroke-width="0.95" stroke-linecap="butt"/>
<line x1="542.60" y1="673.00" x2="542.60" y2="683.20" stroke="#000" stroke-width="2.0" stroke-linecap="butt"/>
<text x="538.42" y="692.00" textLength="34.65" lengthAdjust="spacingAndGlyphs" style="font-family:&quot;Liberation Sans&quot;,sans-serif;font-size:10.8px;font-kerning:none;" fill="#222" >Lys296</text>
<text x="414.20" y="634.30" textLength="54.13" lengthAdjust="spacingAndGlyphs" style="font-size:25.5px;font-kerning:none;" fill="#000" ><tspan style="font-family:&quot;Liberation Sans&quot;,sans-serif;">9-</tspan><tspan style="font-family:&quot;Liberation Sans&quot;,sans-serif;font-style:italic;">cis</tspan></text>
<line x1="748.15" y1="600.30" x2="767.50" y2="611.50" stroke="#000" stroke-width="2.0" stroke-linecap="butt"/>
<line x1="767.50" y1="634.00" x2="748.15" y2="645.20" stroke="#000" stroke-width="2.0" stroke-linecap="butt"/>
<line x1="748.15" y1="645.20" x2="728.80" y2="634.00" stroke="#000" stroke-width="2.0" stroke-linecap="butt"/>
<line x1="728.80" y1="634.00" x2="728.80" y2="611.50" stroke="#000" stroke-width="2.0" stroke-linecap="butt"/>
<line x1="728.80" y1="611.50" x2="748.15" y2="600.30" stroke="#000" stroke-width="2.0" stroke-linecap="butt"/>
<line x1="767.50" y1="611.50" x2="767.50" y2="634.00" stroke="#000" stroke-width="2.0" stroke-linecap="butt"/>
<line x1="763.70" y1="613.50" x2="763.70" y2="632.00" stroke="#000" stroke-width="2.0" stroke-linecap="butt"/>
<line x1="748.15" y1="600.30" x2="736.61" y2="580.37" stroke="#000" stroke-width="2.0" stroke-linecap="butt"/>
<line x1="748.15" y1="600.30" x2="759.69" y2="580.37" stroke="#000" stroke-width="2.0" stroke-linecap="butt"/>
<line x1="767.50" y1="634.00" x2="786.85" y2="645.20" stroke="#000" stroke-width="2.0" stroke-linecap="butt"/>
<line x1="767.50" y1="611.50" x2="786.85" y2="600.30" stroke="#000" stroke-width="2.0" stroke-linecap="butt"/>
<line x1="786.85" y1="600.30" x2="806.20" y2="611.50" stroke="#000" stroke-width="2.0" stroke-linecap="butt"/>
<line x1="790.38" y1="598.19" x2="806.27" y2="607.38" stroke="#000" stroke-width="2.0" stroke-linecap="butt"/>
<line x1="806.20" y1="611.50" x2="825.55" y2="600.30" stroke="#000" stroke-width="2.0" stroke-linecap="butt"/>
<line x1="825.55" y1="600.30" x2="825.55" y2="577.12" stroke="#000" stroke-width="2.0" stroke-linecap="butt"/>
<line x1="825.55" y1="600.30" x2="844.90" y2="611.50" stroke="#000" stroke-width="2.0" stroke-linecap="butt"/>
<line x1="825.48" y1="604.42" x2="841.37" y2="613.61" stroke="#000" stroke-width="2.0" stroke-linecap="butt"/>
<line x1="844.90" y1="611.50" x2="864.25" y2="600.30" stroke="#000" stroke-width="2.0" stroke-linecap="butt"/>
<line x1="864.25" y1="600.30" x2="883.60" y2="611.50" stroke="#000" stroke-width="2.0" stroke-linecap="butt"/>
<line x1="864.18" y1="604.42" x2="880.07" y2="613.61" stroke="#000" stroke-width="2.0" stroke-linecap="butt"/>
<line x1="883.60" y1="611.50" x2="883.60" y2="634.00" stroke="#000" stroke-width="2.0" stroke-linecap="butt"/>
<line x1="883.60" y1="634.00" x2="864.25" y2="645.20" stroke="#000" stroke-width="2.0" stroke-linecap="butt"/>
<line x1="883.60" y1="634.00" x2="902.95" y2="645.20" stroke="#000" stroke-width="2.0" stroke-linecap="butt"/>
<line x1="883.53" y1="638.12" x2="899.42" y2="647.31" stroke="#000" stroke-width="2.0" stroke-linecap="butt"/>
<line x1="902.95" y1="645.20" x2="902.95" y2="667.70" stroke="#000" stroke-width="2.0" stroke-linecap="butt"/>
<line x1="902.95" y1="667.70" x2="916.88" y2="675.76" stroke="#000" stroke-width="2.0" stroke-linecap="butt"/>
<line x1="905.62" y1="665.09" x2="917.82" y2="672.15" stroke="#000" stroke-width="2.0" stroke-linecap="butt"/>
<text x="919.15" y="680.30" textLength="15.00" lengthAdjust="spacingAndGlyphs" style="font-family:&quot;Liberation Sans&quot;,sans-serif;font-size:10.3px;font-kerning:none;" fill="#000" >NH</text>
<line x1="922.30" y1="666.70" x2="926.10" y2="666.70" stroke="#000" stroke-width="0.95" stroke-linecap="butt"/>
<line x1="924.20" y1="664.80" x2="924.20" y2="668.60" stroke="#000" stroke-width="0.95" stroke-linecap="butt"/>
<line x1="923.10" y1="684.10" x2="923.10" y2="694.00" stroke="#000" stroke-width="2.0" stroke-linecap="butt"/>
<text x="919.13" y="703.60" textLength="34.24" lengthAdjust="spacingAndGlyphs" style="font-family:&quot;Liberation Sans&quot;,sans-serif;font-size:11.0px;font-kerning:none;" fill="#222" >Lys296</text>
<text x="874.07" y="596.30" textLength="67.35" lengthAdjust="spacingAndGlyphs" style="font-size:25.2px;font-kerning:none;" fill="#000" ><tspan style="font-family:&quot;Liberation Sans&quot;,sans-serif;">11-</tspan><tspan style="font-family:&quot;Liberation Sans&quot;,sans-serif;font-style:italic;">cis</tspan></text>
<rect x="875.39" y="593.62" width="5.03" height="3.48" fill="#fff"/>
<rect x="882.65" y="593.62" width="4.83" height="3.48" fill="#fff"/>
<rect x="889.44" y="593.62" width="5.03" height="3.48" fill="#fff"/>
<rect x="896.69" y="593.62" width="4.83" height="3.48" fill="#fff"/>
<line x1="520.20" y1="575.20" x2="580.45" y2="541.41" stroke="#000" stroke-width="1.7" stroke-linecap="butt"/>
<path d="M587.60,537.40 L566.79,542.19 L571.93,545.50 Z" fill="#000"/>
<line x1="592.50" y1="542.70" x2="532.23" y2="576.86" stroke="#000" stroke-width="1.7" stroke-linecap="butt"/>
<path d="M525.10,580.90 L545.89,576.01 L540.73,572.73 Z" fill="#000"/>
<line x1="735.40" y1="531.30" x2="795.42" y2="566.36" stroke="#000" stroke-width="1.7" stroke-linecap="butt"/>
<path d="M802.50,570.50 L787.83,554.98 L787.58,561.09 Z" fill="#000"/>
<line x1="799.30" y1="577.30" x2="739.27" y2="542.05" stroke="#000" stroke-width="1.7" stroke-linecap="butt"/>
<path d="M732.20,537.90 L746.84,553.45 L747.10,547.34 Z" fill="#000"/>
<text x="532.03" y="552.70" textLength="25.27" lengthAdjust="spacingAndGlyphs" style="font-family:&quot;Liberation Serif&quot;,sans-serif;font-style:italic;font-size:26.0px;font-kerning:none;" fill="#000" >hν</text>
<text x="768.15" y="541.80" textLength="24.85" lengthAdjust="spacingAndGlyphs" style="font-family:&quot;Liberation Serif&quot;,sans-serif;font-style:italic;font-size:26.0px;font-kerning:none;" fill="#000" >hν</text>
<line x1="821.20" y1="644.00" x2="821.20" y2="700.00" stroke="#000" stroke-width="1.6" stroke-linecap="butt"/>
<path d="M821.3,707.5 L815.4,689.3 L821.3,692.8 L826.9,689.2 Z" fill="#000"/>
<text x="731.54" y="745.20" textLength="175.64" lengthAdjust="spacingAndGlyphs" style="font-family:&quot;Liberation Sans&quot;,sans-serif;font-size:24.2px;font-kerning:none;" fill="#000" >270 nm-product</text>
</svg></body></html>
